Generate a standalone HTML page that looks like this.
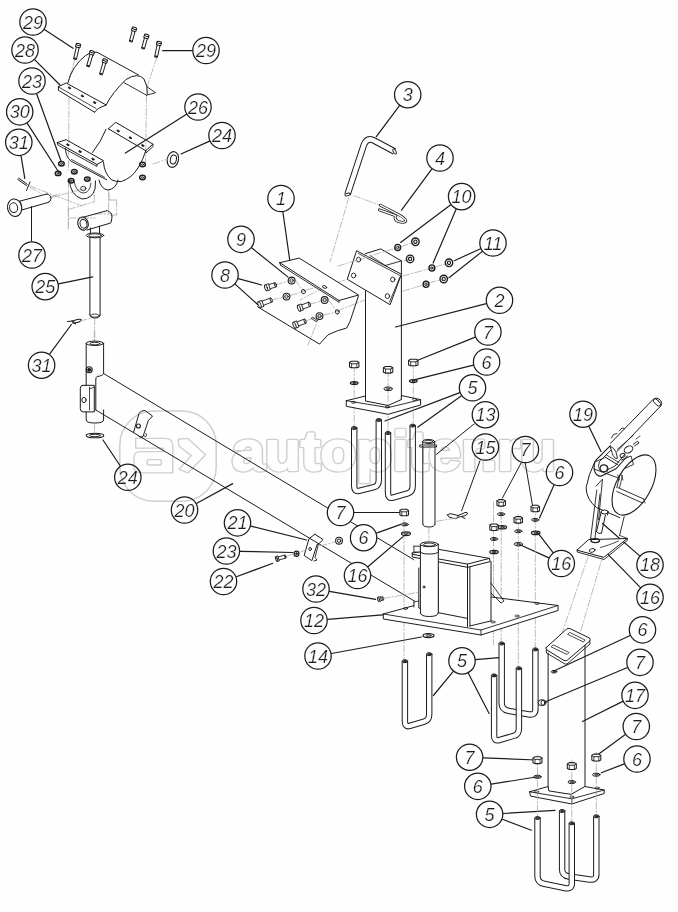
<!DOCTYPE html>
<html><head><meta charset="utf-8"><style>
html,body{margin:0;padding:0;background:#fdfefd;}
svg{display:block;font-family:"Liberation Sans",sans-serif;}
</style></head><body>
<svg width="678" height="912" viewBox="0 0 678 912" stroke-linecap="round">
<line x1="44.4" y1="29.5" x2="73" y2="48.3" stroke="#1c1c1c" stroke-width="1.2"/>
<line x1="34.6" y1="59.6" x2="60" y2="85" stroke="#1c1c1c" stroke-width="1.2"/>
<line x1="36.6" y1="93.8" x2="61" y2="161" stroke="#1c1c1c" stroke-width="1.2"/>
<line x1="27.1" y1="123.2" x2="59" y2="172.5" stroke="#1c1c1c" stroke-width="1.2"/>
<line x1="21" y1="155.7" x2="24.8" y2="178.4" stroke="#1c1c1c" stroke-width="1.2"/>
<line x1="192.4" y1="50.6" x2="162.7" y2="50.7" stroke="#1c1c1c" stroke-width="1.2"/>
<line x1="186.5" y1="114.3" x2="125.4" y2="153.1" stroke="#1c1c1c" stroke-width="1.2"/>
<line x1="209.6" y1="141.1" x2="181" y2="154" stroke="#1c1c1c" stroke-width="1.2"/>
<line x1="58.5" y1="283.9" x2="92.7" y2="276.9" stroke="#1c1c1c" stroke-width="1.2"/>
<line x1="49.6" y1="354.2" x2="71.4" y2="324.5" stroke="#1c1c1c" stroke-width="1.2"/>
<line x1="120.3" y1="466" x2="103" y2="440" stroke="#1c1c1c" stroke-width="1.2"/>
<line x1="196.4" y1="503.5" x2="232.7" y2="483.6" stroke="#1c1c1c" stroke-width="1.2"/>
<line x1="250.7" y1="526.1" x2="306.6" y2="540" stroke="#1c1c1c" stroke-width="1.2"/>
<line x1="240" y1="551.3" x2="292.8" y2="552.5" stroke="#1c1c1c" stroke-width="1.2"/>
<line x1="236.3" y1="576.8" x2="272.8" y2="563.3" stroke="#1c1c1c" stroke-width="1.2"/>
<line x1="329.4" y1="591.3" x2="375.6" y2="599.3" stroke="#1c1c1c" stroke-width="1.2"/>
<line x1="327.6" y1="619.4" x2="385.6" y2="614.7" stroke="#1c1c1c" stroke-width="1.2"/>
<line x1="331.4" y1="653.5" x2="421.4" y2="637" stroke="#1c1c1c" stroke-width="1.2"/>
<line x1="282.9" y1="212" x2="290" y2="262" stroke="#1c1c1c" stroke-width="1.2"/>
<line x1="251.6" y1="247.8" x2="287.8" y2="276.9" stroke="#1c1c1c" stroke-width="1.2"/>
<line x1="238.1" y1="278.6" x2="261.5" y2="285" stroke="#1c1c1c" stroke-width="1.2"/>
<line x1="235.1" y1="284.1" x2="257.7" y2="304.5" stroke="#1c1c1c" stroke-width="1.2"/>
<line x1="399.5" y1="105.6" x2="376.3" y2="136.6" stroke="#1c1c1c" stroke-width="1.2"/>
<line x1="431.9" y1="168.9" x2="401.5" y2="210.2" stroke="#1c1c1c" stroke-width="1.2"/>
<line x1="450.7" y1="204.8" x2="400.6" y2="242.4" stroke="#1c1c1c" stroke-width="1.2"/>
<line x1="456.2" y1="209.1" x2="433.1" y2="263" stroke="#1c1c1c" stroke-width="1.2"/>
<line x1="480.6" y1="248.7" x2="454.3" y2="260.7" stroke="#1c1c1c" stroke-width="1.2"/>
<line x1="482.3" y1="251.4" x2="449" y2="277.8" stroke="#1c1c1c" stroke-width="1.2"/>
<line x1="486.3" y1="303.7" x2="395.6" y2="327" stroke="#1c1c1c" stroke-width="1.2"/>
<line x1="475.3" y1="337.1" x2="416.4" y2="360.8" stroke="#1c1c1c" stroke-width="1.2"/>
<line x1="473.4" y1="365.2" x2="415" y2="379.6" stroke="#1c1c1c" stroke-width="1.2"/>
<line x1="459.8" y1="392.6" x2="385" y2="421" stroke="#1c1c1c" stroke-width="1.2"/>
<line x1="461.5" y1="395.7" x2="417.7" y2="427.2" stroke="#1c1c1c" stroke-width="1.2"/>
<line x1="588.9" y1="426.4" x2="601" y2="451.5" stroke="#1c1c1c" stroke-width="1.2"/>
<line x1="354.1" y1="512.5" x2="399.5" y2="512.5" stroke="#1c1c1c" stroke-width="1.2"/>
<line x1="376.4" y1="533.1" x2="400.8" y2="524.4" stroke="#1c1c1c" stroke-width="1.2"/>
<line x1="367.9" y1="566.7" x2="403.4" y2="536.4" stroke="#1c1c1c" stroke-width="1.2"/>
<line x1="554" y1="485" x2="539.5" y2="518" stroke="#1c1c1c" stroke-width="1.2"/>
<line x1="548.9" y1="557.9" x2="520" y2="544.8" stroke="#1c1c1c" stroke-width="1.2"/>
<line x1="553.1" y1="552.7" x2="537.5" y2="532.3" stroke="#1c1c1c" stroke-width="1.2"/>
<line x1="639.7" y1="555.9" x2="602.5" y2="523.5" stroke="#1c1c1c" stroke-width="1.2"/>
<line x1="640.5" y1="587.6" x2="596.3" y2="542.3" stroke="#1c1c1c" stroke-width="1.2"/>
<line x1="630.2" y1="635.5" x2="553.8" y2="671" stroke="#1c1c1c" stroke-width="1.2"/>
<line x1="627.5" y1="667.5" x2="545" y2="702" stroke="#1c1c1c" stroke-width="1.2"/>
<line x1="622.8" y1="701.4" x2="582.5" y2="721.5" stroke="#1c1c1c" stroke-width="1.2"/>
<line x1="625.3" y1="734.5" x2="598.8" y2="754" stroke="#1c1c1c" stroke-width="1.2"/>
<line x1="624.3" y1="763.9" x2="601.3" y2="772.8" stroke="#1c1c1c" stroke-width="1.2"/>
<line x1="483.2" y1="757.8" x2="536" y2="760" stroke="#1c1c1c" stroke-width="1.2"/>
<line x1="491.2" y1="784.2" x2="536" y2="777" stroke="#1c1c1c" stroke-width="1.2"/>
<line x1="503.2" y1="813.5" x2="555" y2="810.3" stroke="#1c1c1c" stroke-width="1.2"/>
<line x1="502.3" y1="819.2" x2="531.3" y2="830.3" stroke="#1c1c1c" stroke-width="1.2"/>
<line x1="453.3" y1="671.4" x2="433.4" y2="695.5" stroke="#1c1c1c" stroke-width="1.2"/>
<line x1="468.2" y1="673" x2="489.1" y2="713.5" stroke="#1c1c1c" stroke-width="1.2"/>
<line x1="475.5" y1="659.7" x2="499" y2="657.7" stroke="#1c1c1c" stroke-width="1.2"/>
<line x1="69" y1="98" x2="68.5" y2="170" stroke="#a6a6a6" stroke-width="0.75" stroke-dasharray="7 2 1.5 2"/>
<line x1="146.5" y1="96" x2="145.5" y2="165" stroke="#a6a6a6" stroke-width="0.75" stroke-dasharray="7 2 1.5 2"/>
<line x1="75" y1="59" x2="68" y2="83" stroke="#a6a6a6" stroke-width="0.75" stroke-dasharray="7 2 1.5 2"/>
<line x1="157" y1="57" x2="147" y2="87" stroke="#a6a6a6" stroke-width="0.75" stroke-dasharray="7 2 1.5 2"/>
<line x1="68.4" y1="181" x2="68.4" y2="228" stroke="#a6a6a6" stroke-width="0.75" stroke-dasharray="7 2 1.5 2"/>
<line x1="108.6" y1="190" x2="108.6" y2="214" stroke="#a6a6a6" stroke-width="0.75" stroke-dasharray="7 2 1.5 2"/>
<line x1="69" y1="218" x2="95" y2="218" stroke="#a6a6a6" stroke-width="0.75" stroke-dasharray="7 2 1.5 2"/>
<line x1="95" y1="214" x2="112" y2="214" stroke="#a6a6a6" stroke-width="0.75" stroke-dasharray="7 2 1.5 2"/>
<line x1="30" y1="186" x2="82" y2="206" stroke="#a6a6a6" stroke-width="0.75" stroke-dasharray="7 2 1.5 2"/>
<line x1="50" y1="198" x2="86" y2="188" stroke="#a6a6a6" stroke-width="0.75" stroke-dasharray="7 2 1.5 2"/>
<polyline points="58.4,86.7 66.2,83 106,104.9" stroke="#1c1c1c" stroke-width="1.0" fill="none" stroke-linejoin="round"/>
<polyline points="58.4,86.7 58.4,90.3 94.6,112.2" stroke="#1c1c1c" stroke-width="1.0" fill="none" stroke-linejoin="round"/>
<line x1="58.4" y1="86.9" x2="96" y2="108.5" stroke="#1c1c1c" stroke-width="0.8"/>
<path d="M94.6,112.2 Q97,108 106,105.2 Q112,93 126,79.5 Q138,72 144,79 Q148,86 147.3,94.5" stroke="#1c1c1c" stroke-width="1.0" fill="none" stroke-linejoin="round" stroke-linecap="round"/>
<polyline points="146.5,95.2 155.5,92.7 147.3,87" stroke="#1c1c1c" stroke-width="0.9" fill="none" stroke-linejoin="round"/>
<path d="M67.8,83 Q72,66 85.7,55.4 Q91,51.5 97,52.2 L138.4,74.9" stroke="#1c1c1c" stroke-width="1.0" fill="none" stroke-linejoin="round" stroke-linecap="round"/>
<line x1="123.8" y1="82.5" x2="146.5" y2="95.2" stroke="#1c1c1c" stroke-width="0.9"/>
<ellipse cx="69.5" cy="87.9" rx="1.3" ry="0.8" transform="rotate(30 69.5 87.9)" stroke="#1c1c1c" stroke-width="0.8" fill="#1c1c1c"/>
<ellipse cx="82.4" cy="96" rx="1.3" ry="0.8" transform="rotate(30 82.4 96)" stroke="#1c1c1c" stroke-width="0.8" fill="#1c1c1c"/>
<ellipse cx="94.6" cy="102.5" rx="1.3" ry="0.8" transform="rotate(30 94.6 102.5)" stroke="#1c1c1c" stroke-width="0.8" fill="#1c1c1c"/>
<polygon points="76.2,44 75.5,46.9 80,47.9 80.6,45" stroke="#1c1c1c" stroke-width="1.0" fill="#fdfefd" stroke-linejoin="round"/>
<ellipse cx="78.4" cy="44.5" rx="1" ry="2.3" transform="rotate(103.08299067481116 78.4 44.5)" stroke="#1c1c1c" stroke-width="1.0" fill="#fdfefd"/>
<line x1="76.3" y1="47.1" x2="73.7" y2="58.4" stroke="#1c1c1c" stroke-width="1.0"/>
<line x1="79.1" y1="47.8" x2="76.5" y2="59" stroke="#1c1c1c" stroke-width="1.0"/>
<ellipse cx="75.1" cy="58.7" rx="0.6" ry="1.4" transform="rotate(103.08299067481116 75.1 58.7)" stroke="#1c1c1c" stroke-width="1.0" fill="none"/>
<polygon points="90,51.2 89.2,54 93.6,55.3 94.4,52.4" stroke="#1c1c1c" stroke-width="1.0" fill="#fdfefd" stroke-linejoin="round"/>
<ellipse cx="92.2" cy="51.8" rx="1" ry="2.3" transform="rotate(106.1051420841489 92.2 51.8)" stroke="#1c1c1c" stroke-width="1.0" fill="#fdfefd"/>
<line x1="90" y1="54.3" x2="86.7" y2="65.6" stroke="#1c1c1c" stroke-width="1.0"/>
<line x1="92.8" y1="55.1" x2="89.5" y2="66.4" stroke="#1c1c1c" stroke-width="1.0"/>
<ellipse cx="88.1" cy="66" rx="0.6" ry="1.4" transform="rotate(106.1051420841489 88.1 66)" stroke="#1c1c1c" stroke-width="1.0" fill="none"/>
<polygon points="103,59.4 102.2,62.2 106.6,63.5 107.4,60.6" stroke="#1c1c1c" stroke-width="1.0" fill="#fdfefd" stroke-linejoin="round"/>
<ellipse cx="105.2" cy="60" rx="1" ry="2.3" transform="rotate(106.21338168998601 105.2 60)" stroke="#1c1c1c" stroke-width="1.0" fill="#fdfefd"/>
<line x1="103" y1="62.5" x2="99.7" y2="73.7" stroke="#1c1c1c" stroke-width="1.0"/>
<line x1="105.8" y1="63.3" x2="102.5" y2="74.5" stroke="#1c1c1c" stroke-width="1.0"/>
<ellipse cx="101.1" cy="74.1" rx="0.6" ry="1.4" transform="rotate(106.21338168998601 101.1 74.1)" stroke="#1c1c1c" stroke-width="1.0" fill="none"/>
<polygon points="132.2,27.6 131.4,30.5 135.8,31.7 136.6,28.8" stroke="#1c1c1c" stroke-width="1.0" fill="#fdfefd" stroke-linejoin="round"/>
<ellipse cx="134.4" cy="28.2" rx="1" ry="2.3" transform="rotate(105.06848815949222 134.4 28.2)" stroke="#1c1c1c" stroke-width="1.0" fill="#fdfefd"/>
<line x1="132.2" y1="30.7" x2="129.5" y2="40.8" stroke="#1c1c1c" stroke-width="1.0"/>
<line x1="135" y1="31.5" x2="132.3" y2="41.6" stroke="#1c1c1c" stroke-width="1.0"/>
<ellipse cx="130.9" cy="41.2" rx="0.6" ry="1.4" transform="rotate(105.06848815949222 130.9 41.2)" stroke="#1c1c1c" stroke-width="1.0" fill="none"/>
<polygon points="144.5,34.7 143.7,37.6 148.1,38.8 148.9,35.9" stroke="#1c1c1c" stroke-width="1.0" fill="#fdfefd" stroke-linejoin="round"/>
<ellipse cx="146.7" cy="35.3" rx="1" ry="2.3" transform="rotate(105.47863816541833 146.7 35.3)" stroke="#1c1c1c" stroke-width="1.0" fill="#fdfefd"/>
<line x1="144.5" y1="37.8" x2="141.7" y2="47.9" stroke="#1c1c1c" stroke-width="1.0"/>
<line x1="147.3" y1="38.6" x2="144.5" y2="48.7" stroke="#1c1c1c" stroke-width="1.0"/>
<ellipse cx="143.1" cy="48.3" rx="0.6" ry="1.4" transform="rotate(105.47863816541833 143.1 48.3)" stroke="#1c1c1c" stroke-width="1.0" fill="none"/>
<polygon points="157,41.9 156.3,44.8 160.8,45.8 161.4,42.9" stroke="#1c1c1c" stroke-width="1.0" fill="#fdfefd" stroke-linejoin="round"/>
<ellipse cx="159.2" cy="42.4" rx="1" ry="2.3" transform="rotate(102.31501847927437 159.2 42.4)" stroke="#1c1c1c" stroke-width="1.0" fill="#fdfefd"/>
<line x1="157.1" y1="45" x2="154.7" y2="56.3" stroke="#1c1c1c" stroke-width="1.0"/>
<line x1="160" y1="45.6" x2="157.5" y2="56.9" stroke="#1c1c1c" stroke-width="1.0"/>
<ellipse cx="156.1" cy="56.6" rx="0.6" ry="1.4" transform="rotate(102.31501847927437 156.1 56.6)" stroke="#1c1c1c" stroke-width="1.0" fill="none"/>
<polyline points="57.3,142.5 66.2,139.7 103.5,160.7 97,164.5 57.3,142.5" stroke="#1c1c1c" stroke-width="1.0" fill="none" stroke-linejoin="round"/>
<polyline points="57.3,142.5 57.8,145 97,166.5 97,164.5" stroke="#1c1c1c" stroke-width="0.9" fill="none" stroke-linejoin="round"/>
<polyline points="108.4,128.8 115.7,122.3 153,144.2 145.7,150.7 108.4,128.8" stroke="#1c1c1c" stroke-width="1.0" fill="none" stroke-linejoin="round"/>
<polyline points="145.7,150.7 146,153 153,146.6 153,144.2" stroke="#1c1c1c" stroke-width="0.9" fill="none" stroke-linejoin="round"/>
<path d="M106,129.3 Q101,142 92.5,152.5" stroke="#1c1c1c" stroke-width="1.0" fill="none" stroke-linejoin="round" stroke-linecap="round"/>
<path d="M103.5,162 Q104,173 111.6,179.9 Q116,182 121.4,181.5 Q132,178 138,168 Q143,160 145.7,151" stroke="#1c1c1c" stroke-width="1.0" fill="none" stroke-linejoin="round" stroke-linecap="round"/>
<path d="M65.4,148.3 Q66,156 68.7,158.8 L71.1,161.2 L106.8,179.9" stroke="#1c1c1c" stroke-width="1.0" fill="none" stroke-linejoin="round" stroke-linecap="round"/>
<line x1="71.5" y1="159.5" x2="104.5" y2="177.2" stroke="#1c1c1c" stroke-width="0.8"/>
<ellipse cx="67.8" cy="144.7" rx="1.3" ry="0.8" transform="rotate(30 67.8 144.7)" stroke="#1c1c1c" stroke-width="0.8" fill="#1c1c1c"/>
<ellipse cx="80" cy="151.5" rx="1.3" ry="0.8" transform="rotate(30 80 151.5)" stroke="#1c1c1c" stroke-width="0.8" fill="#1c1c1c"/>
<ellipse cx="93" cy="159.1" rx="1.3" ry="0.8" transform="rotate(30 93 159.1)" stroke="#1c1c1c" stroke-width="0.8" fill="#1c1c1c"/>
<ellipse cx="118.1" cy="130.9" rx="1.3" ry="0.8" transform="rotate(30 118.1 130.9)" stroke="#1c1c1c" stroke-width="0.8" fill="#1c1c1c"/>
<ellipse cx="130.3" cy="137.7" rx="1.3" ry="0.8" transform="rotate(30 130.3 137.7)" stroke="#1c1c1c" stroke-width="0.8" fill="#1c1c1c"/>
<ellipse cx="142.8" cy="145.5" rx="1.3" ry="0.8" transform="rotate(30 142.8 145.5)" stroke="#1c1c1c" stroke-width="0.8" fill="#1c1c1c"/>
<path d="M69.5,180 Q70,195 82,199 Q92,199 95,189 L95.5,181" stroke="#1c1c1c" stroke-width="1.0" fill="none" stroke-linejoin="round" stroke-linecap="round"/>
<path d="M74,181 Q76,192 83,193 Q90,193 91,183" stroke="#1c1c1c" stroke-width="0.8" fill="none" stroke-linejoin="round" stroke-linecap="round"/>
<path d="M99,180 Q101,189 108,190 Q116,189 118,180" stroke="#1c1c1c" stroke-width="1.0" fill="none" stroke-linejoin="round" stroke-linecap="round"/>
<ellipse cx="61.4" cy="163.7" rx="2.8" ry="2.2" transform="rotate(0 61.4 163.7)" stroke="#1c1c1c" stroke-width="1.5" fill="none"/>
<ellipse cx="61.4" cy="163.7" rx="1" ry="0.8" transform="rotate(0 61.4 163.7)" stroke="#1c1c1c" stroke-width="0.8" fill="none"/>
<ellipse cx="58.1" cy="173.4" rx="2.8" ry="2.2" transform="rotate(0 58.1 173.4)" stroke="#1c1c1c" stroke-width="1.5" fill="none"/>
<ellipse cx="58.1" cy="173.4" rx="1" ry="0.8" transform="rotate(0 58.1 173.4)" stroke="#1c1c1c" stroke-width="0.8" fill="none"/>
<ellipse cx="74.3" cy="171.8" rx="2.8" ry="2.2" transform="rotate(0 74.3 171.8)" stroke="#1c1c1c" stroke-width="1.5" fill="none"/>
<ellipse cx="74.3" cy="171.8" rx="1" ry="0.8" transform="rotate(0 74.3 171.8)" stroke="#1c1c1c" stroke-width="0.8" fill="none"/>
<ellipse cx="71.1" cy="180.7" rx="2.8" ry="2.2" transform="rotate(0 71.1 180.7)" stroke="#1c1c1c" stroke-width="1.5" fill="none"/>
<ellipse cx="71.1" cy="180.7" rx="1" ry="0.8" transform="rotate(0 71.1 180.7)" stroke="#1c1c1c" stroke-width="0.8" fill="none"/>
<ellipse cx="87.3" cy="179.1" rx="2.8" ry="2.2" transform="rotate(0 87.3 179.1)" stroke="#1c1c1c" stroke-width="1.5" fill="none"/>
<ellipse cx="87.3" cy="179.1" rx="1" ry="0.8" transform="rotate(0 87.3 179.1)" stroke="#1c1c1c" stroke-width="0.8" fill="none"/>
<ellipse cx="142.5" cy="164.5" rx="2.8" ry="2.2" transform="rotate(0 142.5 164.5)" stroke="#1c1c1c" stroke-width="1.5" fill="none"/>
<ellipse cx="142.5" cy="164.5" rx="1" ry="0.8" transform="rotate(0 142.5 164.5)" stroke="#1c1c1c" stroke-width="0.8" fill="none"/>
<ellipse cx="142.5" cy="177.5" rx="2.8" ry="2.2" transform="rotate(0 142.5 177.5)" stroke="#1c1c1c" stroke-width="1.5" fill="none"/>
<ellipse cx="142.5" cy="177.5" rx="1" ry="0.8" transform="rotate(0 142.5 177.5)" stroke="#1c1c1c" stroke-width="0.8" fill="none"/>
<ellipse cx="83.3" cy="188.5" rx="2.6" ry="2.2" transform="rotate(0 83.3 188.5)" stroke="#1c1c1c" stroke-width="0.9" fill="none"/>
<ellipse cx="172.9" cy="159.5" rx="5.6" ry="8" transform="rotate(12 172.9 159.5)" stroke="#1c1c1c" stroke-width="1.1" fill="none"/>
<ellipse cx="173.4" cy="159.5" rx="3" ry="4.5" transform="rotate(12 173.4 159.5)" stroke="#1c1c1c" stroke-width="1.0" fill="none"/>
<line x1="153" y1="164" x2="168" y2="159" stroke="#a6a6a6" stroke-width="0.75" stroke-dasharray="7 2 1.5 2"/>
<path d="M17.7,179.4 L26.5,185.6 M18.6,178 L27.2,184.3 M30,182 L26.5,190.5" stroke="#1c1c1c" stroke-width="1.0" fill="none" stroke-linejoin="round" stroke-linecap="round"/>
<line x1="30" y1="187.4" x2="41.6" y2="193.6" stroke="#a6a6a6" stroke-width="0.75" stroke-dasharray="7 2 1.5 2"/>
<line x1="51.3" y1="196.7" x2="60" y2="193.6" stroke="#a6a6a6" stroke-width="0.75" stroke-dasharray="7 2 1.5 2"/>
<line x1="19.9" y1="201.1" x2="46.9" y2="194" stroke="#1c1c1c" stroke-width="1.0"/>
<line x1="21.7" y1="210" x2="48.2" y2="202.4" stroke="#1c1c1c" stroke-width="1.0"/>
<path d="M46.9,194 Q50.9,195 51,198.5 Q51,201.5 48.2,202.4" stroke="#1c1c1c" stroke-width="1.0" fill="none" stroke-linejoin="round" stroke-linecap="round"/>
<path d="M19.9,201.1 Q22.5,206 21.7,210" stroke="#1c1c1c" stroke-width="0.9" fill="none" stroke-linejoin="round" stroke-linecap="round"/>
<ellipse cx="14.6" cy="207.7" rx="7.1" ry="8.8" transform="rotate(-10 14.6 207.7)" stroke="#1c1c1c" stroke-width="1.1" fill="#fdfefd"/>
<ellipse cx="13.6" cy="207.7" rx="4" ry="4.9" transform="rotate(-10 13.6 207.7)" stroke="#1c1c1c" stroke-width="1.0" fill="none"/>
<line x1="31.5" y1="206.5" x2="31.5" y2="241" stroke="#1c1c1c" stroke-width="1.0"/>
<line x1="68.3" y1="209.5" x2="68.3" y2="230" stroke="#a6a6a6" stroke-width="0.75" stroke-dasharray="7 2 1.5 2"/>
<line x1="68.3" y1="209.5" x2="94.2" y2="201.8" stroke="#a6a6a6" stroke-width="0.75" stroke-dasharray="7 2 1.5 2"/>
<line x1="94.2" y1="201.8" x2="94.2" y2="190" stroke="#a6a6a6" stroke-width="0.75" stroke-dasharray="7 2 1.5 2"/>
<line x1="109" y1="193.5" x2="109" y2="200" stroke="#a6a6a6" stroke-width="0.75" stroke-dasharray="7 2 1.5 2"/>
<line x1="109" y1="200" x2="116.6" y2="200" stroke="#a6a6a6" stroke-width="0.75" stroke-dasharray="7 2 1.5 2"/>
<line x1="116.6" y1="200" x2="116.6" y2="214.8" stroke="#a6a6a6" stroke-width="0.75" stroke-dasharray="7 2 1.5 2"/>
<line x1="116.6" y1="214.8" x2="111" y2="215.5" stroke="#a6a6a6" stroke-width="0.75" stroke-dasharray="7 2 1.5 2"/>
<ellipse cx="83" cy="223.6" rx="5.2" ry="6.6" transform="rotate(-15 83 223.6)" stroke="#1c1c1c" stroke-width="1.1" fill="none"/>
<ellipse cx="83.5" cy="223.8" rx="3.4" ry="4.4" transform="rotate(-15 83.5 223.8)" stroke="#1c1c1c" stroke-width="1.0" fill="none"/>
<path d="M83.6,217.1 L107.2,210.6 Q112,212 112,217 Q111.5,222 110.7,223 L87.1,230" stroke="#1c1c1c" stroke-width="1.0" fill="none" stroke-linejoin="round" stroke-linecap="round"/>
<line x1="90.4" y1="228" x2="90.4" y2="233" stroke="#1c1c1c" stroke-width="1.0"/>
<line x1="99.5" y1="226" x2="99.5" y2="233" stroke="#1c1c1c" stroke-width="1.0"/>
<ellipse cx="95" cy="235.4" rx="8.8" ry="2.4" transform="rotate(0 95 235.4)" stroke="#1c1c1c" stroke-width="1.0" fill="none"/>
<ellipse cx="95" cy="235.4" rx="6.5" ry="1.5" transform="rotate(0 95 235.4)" stroke="#1c1c1c" stroke-width="0.8" fill="none"/>
<line x1="89.9" y1="237.5" x2="89.9" y2="315" stroke="#1c1c1c" stroke-width="1.0"/>
<line x1="100.1" y1="237.5" x2="100.1" y2="315" stroke="#1c1c1c" stroke-width="1.0"/>
<path d="M89.9,315 Q90,318 95,318 Q100,318 100.1,315" stroke="#1c1c1c" stroke-width="1.0" fill="none" stroke-linejoin="round" stroke-linecap="round"/>
<ellipse cx="95" cy="315.6" rx="4.2" ry="1.6" transform="rotate(0 95 315.6)" stroke="#1c1c1c" stroke-width="0.8" fill="none"/>
<line x1="94.7" y1="318" x2="94.7" y2="342" stroke="#a6a6a6" stroke-width="0.75" stroke-dasharray="7 2 1.5 2"/>
<path d="M67.5,321.5 L73,321 Q78,318.5 81,319.5 Q81.5,321.5 77,322.5 Q73,323.8 72.5,322.8 M72,320.5 L75.5,323.8" stroke="#1c1c1c" stroke-width="1.1" fill="none" stroke-linejoin="round" stroke-linecap="round"/>
<line x1="80" y1="321" x2="92" y2="318" stroke="#a6a6a6" stroke-width="0.75" stroke-dasharray="7 2 1.5 2"/>
<line x1="94.3" y1="330" x2="94.3" y2="342" stroke="#a6a6a6" stroke-width="0.75" stroke-dasharray="7 2 1.5 2"/>
<ellipse cx="94.9" cy="343.3" rx="8.7" ry="2.2" transform="rotate(0 94.9 343.3)" stroke="#1c1c1c" stroke-width="1.0" fill="none"/>
<ellipse cx="94.9" cy="343.6" rx="5" ry="1.3" transform="rotate(0 94.9 343.6)" stroke="#1c1c1c" stroke-width="0.9" fill="none"/>
<line x1="86.2" y1="343.3" x2="86.2" y2="385.5" stroke="#1c1c1c" stroke-width="1.0"/>
<line x1="103.6" y1="343.3" x2="103.6" y2="373.5" stroke="#1c1c1c" stroke-width="1.0"/>
<path d="M86.2,412 L86.2,420 Q86.5,423 94.9,423 Q103.5,423 103.6,420 L103.6,410" stroke="#1c1c1c" stroke-width="1.0" fill="none" stroke-linejoin="round" stroke-linecap="round"/>
<ellipse cx="89.2" cy="369.8" rx="3" ry="3" transform="rotate(0 89.2 369.8)" stroke="#1c1c1c" stroke-width="1.1" fill="none"/>
<ellipse cx="89.2" cy="369.8" rx="1.6" ry="1.6" transform="rotate(0 89.2 369.8)" stroke="#1c1c1c" stroke-width="0.9" fill="#1c1c1c"/>
<path d="M103.6,373.5 Q103,376 97,376.5 Q95.8,377 95.8,380 L95.8,410" stroke="#1c1c1c" stroke-width="1.0" fill="none" stroke-linejoin="round" stroke-linecap="round"/>
<line x1="103.6" y1="373.5" x2="419.3" y2="563" stroke="#1c1c1c" stroke-width="1.0"/>
<line x1="95.8" y1="410" x2="419.3" y2="604" stroke="#1c1c1c" stroke-width="1.0"/>
<path d="M80.3,388 Q80.3,385.3 83,385.3 L94.3,385.3 L94.3,411.9 L83,411.9 Q80.3,411.9 80.3,409 Z" stroke="#1c1c1c" stroke-width="1.0" fill="none" stroke-linejoin="round" stroke-linecap="round"/>
<line x1="89.5" y1="387" x2="89.5" y2="410" stroke="#1c1c1c" stroke-width="0.8"/>
<line x1="94.3" y1="387" x2="89.5" y2="389" stroke="#1c1c1c" stroke-width="0.8"/>
<ellipse cx="84" cy="400" rx="2.2" ry="2.6" transform="rotate(0 84 400)" stroke="#1c1c1c" stroke-width="1.0" fill="none"/>
<ellipse cx="95" cy="435.5" rx="8.8" ry="2.3" transform="rotate(0 95 435.5)" stroke="#1c1c1c" stroke-width="1.1" fill="none"/>
<ellipse cx="95" cy="435.5" rx="5.5" ry="1.2" transform="rotate(0 95 435.5)" stroke="#1c1c1c" stroke-width="0.9" fill="none"/>
<line x1="94.5" y1="424" x2="94.5" y2="433" stroke="#a6a6a6" stroke-width="0.75" stroke-dasharray="7 2 1.5 2"/>
<path d="M133.5,432.5 L139,413.5 Q141,410 145,410.5 L152.5,416 L150.5,418.5 Q148,419.5 147.5,423 L143,436.5 Q141,438 139,436.5" stroke="#1c1c1c" stroke-width="1.0" fill="none" stroke-linejoin="round" stroke-linecap="round"/>
<path d="M144,436 Q146.5,437.5 146.5,435.5 L146,433.5" stroke="#1c1c1c" stroke-width="0.9" fill="none" stroke-linejoin="round" stroke-linecap="round"/>
<ellipse cx="138.4" cy="426" rx="2" ry="2" transform="rotate(0 138.4 426)" stroke="#1c1c1c" stroke-width="1.1" fill="none"/>
<polyline points="314.8,534.2 323.1,539.5 318.4,544.2 317.2,544.2 311.9,560.7 304.2,555.4 308.9,538.9 314.8,534.2" stroke="#1c1c1c" stroke-width="1.0" fill="none" stroke-linejoin="round"/>
<path d="M318.4,544.2 L315,557.5 L317,560 L314,561" stroke="#1c1c1c" stroke-width="0.9" fill="none" stroke-linejoin="round" stroke-linecap="round"/>
<ellipse cx="310.1" cy="549" rx="1.3" ry="1.6" transform="rotate(0 310.1 549)" stroke="#1c1c1c" stroke-width="0.9" fill="none"/>
<ellipse cx="296.5" cy="553.7" rx="2.4" ry="2.6" transform="rotate(0 296.5 553.7)" stroke="#1c1c1c" stroke-width="1.3" fill="none"/>
<ellipse cx="296.5" cy="553.7" rx="0.8" ry="1" transform="rotate(0 296.5 553.7)" stroke="#1c1c1c" stroke-width="1" fill="#1c1c1c"/>
<polygon points="277.2,561.5 279.3,560.9 277.9,555.9 275.8,556.5" stroke="#1c1c1c" stroke-width="0.9" fill="#fdfefd" stroke-linejoin="round"/>
<ellipse cx="276.5" cy="559" rx="0.8" ry="2.6" transform="rotate(-15.255118703057619 276.5 559)" stroke="#1c1c1c" stroke-width="0.9" fill="#fdfefd"/>
<line x1="279" y1="560" x2="285.7" y2="558.1" stroke="#1c1c1c" stroke-width="0.9"/>
<line x1="278.2" y1="556.9" x2="284.9" y2="555.1" stroke="#1c1c1c" stroke-width="0.9"/>
<ellipse cx="285.3" cy="556.6" rx="0.6" ry="1.6" transform="rotate(-15.255118703057619 285.3 556.6)" stroke="#1c1c1c" stroke-width="0.9" fill="none"/>
<ellipse cx="339" cy="540.7" rx="3.4" ry="3.4" transform="rotate(0 339 540.7)" stroke="#1c1c1c" stroke-width="1.1" fill="none"/>
<ellipse cx="339" cy="540.7" rx="1.7" ry="1.7" transform="rotate(0 339 540.7)" stroke="#1c1c1c" stroke-width="1.0" fill="none"/>
<line x1="287" y1="556" x2="293" y2="554" stroke="#a6a6a6" stroke-width="0.75" stroke-dasharray="7 2 1.5 2"/>
<line x1="300" y1="552" x2="306" y2="550" stroke="#a6a6a6" stroke-width="0.75" stroke-dasharray="7 2 1.5 2"/>
<line x1="320" y1="546" x2="335" y2="542" stroke="#a6a6a6" stroke-width="0.75" stroke-dasharray="7 2 1.5 2"/>
<line x1="354.2" y1="365" x2="354.2" y2="430" stroke="#a6a6a6" stroke-width="0.75" stroke-dasharray="7 2 1.5 2"/>
<line x1="388.1" y1="370" x2="388.1" y2="436" stroke="#a6a6a6" stroke-width="0.75" stroke-dasharray="7 2 1.5 2"/>
<line x1="413.3" y1="362" x2="413.3" y2="428" stroke="#a6a6a6" stroke-width="0.75" stroke-dasharray="7 2 1.5 2"/>
<line x1="365.5" y1="290.8" x2="365.5" y2="401" stroke="#1c1c1c" stroke-width="1.0"/>
<line x1="401.4" y1="275" x2="401.4" y2="399.5" stroke="#1c1c1c" stroke-width="1.0"/>
<polygon points="356.9,250.9 401.4,274.2 390.1,304.7 347.6,279.5" stroke="#1c1c1c" stroke-width="1.0" fill="#fdfefd" stroke-linejoin="round"/>
<line x1="358.5" y1="253.6" x2="400" y2="275.5" stroke="#1c1c1c" stroke-width="0.8"/>
<line x1="400" y1="277" x2="389.5" y2="302" stroke="#1c1c1c" stroke-width="0.8"/>
<polyline points="365.5,253.6 380.8,248.9 401.4,260.9 401.4,274.2" stroke="#1c1c1c" stroke-width="1.0" fill="none" stroke-linejoin="round"/>
<line x1="385.4" y1="265.5" x2="401.4" y2="260.9" stroke="#1c1c1c" stroke-width="0.9"/>
<line x1="370" y1="255.5" x2="385.4" y2="265.5" stroke="#1c1c1c" stroke-width="0.8"/>
<ellipse cx="358.6" cy="259.6" rx="2.2" ry="2.4" transform="rotate(0 358.6 259.6)" stroke="#1c1c1c" stroke-width="0.9" fill="none"/>
<ellipse cx="353.6" cy="275.5" rx="2.2" ry="2.4" transform="rotate(0 353.6 275.5)" stroke="#1c1c1c" stroke-width="0.9" fill="none"/>
<ellipse cx="392.7" cy="279.5" rx="2.2" ry="2.4" transform="rotate(0 392.7 279.5)" stroke="#1c1c1c" stroke-width="0.9" fill="none"/>
<ellipse cx="387.4" cy="296.1" rx="2.2" ry="2.4" transform="rotate(0 387.4 296.1)" stroke="#1c1c1c" stroke-width="0.9" fill="none"/>
<polyline points="346.3,400.7 365.5,396 365.5,401 388.1,405.5 401.4,399.5 401.4,395.5 420.6,399.7 420.6,405 388.1,414.3 346.3,406.3 346.3,400.7" stroke="#1c1c1c" stroke-width="1.0" fill="#fdfefd" stroke-linejoin="round"/>
<polyline points="346.3,400.7 388.1,407.6 420.6,399.7" stroke="#1c1c1c" stroke-width="0.9" fill="none" stroke-linejoin="round"/>
<ellipse cx="353.6" cy="402.3" rx="2" ry="1" transform="rotate(0 353.6 402.3)" stroke="#1c1c1c" stroke-width="0.8" fill="none"/>
<ellipse cx="387.4" cy="407" rx="2" ry="1" transform="rotate(0 387.4 407)" stroke="#1c1c1c" stroke-width="0.8" fill="none"/>
<ellipse cx="414.6" cy="399.5" rx="2" ry="1" transform="rotate(0 414.6 399.5)" stroke="#1c1c1c" stroke-width="0.8" fill="none"/>
<polygon points="349.5,362.5 351.6,361.2 356.8,361.2 358.9,362.5 358.9,367 356.8,367.8 351.6,367.8 349.5,367" stroke="#1c1c1c" stroke-width="1.05" fill="#fdfefd" stroke-linejoin="round"/>
<polyline points="349.5,362.5 351.6,363.8 356.8,363.8 358.9,362.5" stroke="#1c1c1c" stroke-width="0.9" fill="none" stroke-linejoin="round"/>
<line x1="351.6" y1="363.8" x2="351.6" y2="367.8" stroke="#1c1c1c" stroke-width="0.8"/>
<line x1="356.8" y1="363.8" x2="356.8" y2="367.8" stroke="#1c1c1c" stroke-width="0.8"/>
<polygon points="383.4,367.8 385.5,366.5 390.7,366.5 392.8,367.8 392.8,372.3 390.7,373.1 385.5,373.1 383.4,372.3" stroke="#1c1c1c" stroke-width="1.05" fill="#fdfefd" stroke-linejoin="round"/>
<polyline points="383.4,367.8 385.5,369.1 390.7,369.1 392.8,367.8" stroke="#1c1c1c" stroke-width="0.9" fill="none" stroke-linejoin="round"/>
<line x1="385.5" y1="369.1" x2="385.5" y2="373.1" stroke="#1c1c1c" stroke-width="0.8"/>
<line x1="390.7" y1="369.1" x2="390.7" y2="373.1" stroke="#1c1c1c" stroke-width="0.8"/>
<polygon points="408.6,360.5 410.7,359.2 415.9,359.2 418,360.5 418,365 415.9,365.8 410.7,365.8 408.6,365" stroke="#1c1c1c" stroke-width="1.05" fill="#fdfefd" stroke-linejoin="round"/>
<polyline points="408.6,360.5 410.7,361.8 415.9,361.8 418,360.5" stroke="#1c1c1c" stroke-width="0.9" fill="none" stroke-linejoin="round"/>
<line x1="410.7" y1="361.8" x2="410.7" y2="365.8" stroke="#1c1c1c" stroke-width="0.8"/>
<line x1="415.9" y1="361.8" x2="415.9" y2="365.8" stroke="#1c1c1c" stroke-width="0.8"/>
<ellipse cx="354.2" cy="383" rx="3.8" ry="1.5" transform="rotate(0 354.2 383)" stroke="#1c1c1c" stroke-width="1.25" fill="none"/>
<ellipse cx="354.2" cy="383" rx="1.7" ry="0.6" transform="rotate(0 354.2 383)" stroke="#1c1c1c" stroke-width="0.9" fill="none"/>
<ellipse cx="413.3" cy="381" rx="3.8" ry="1.5" transform="rotate(0 413.3 381)" stroke="#1c1c1c" stroke-width="1.25" fill="none"/>
<ellipse cx="413.3" cy="381" rx="1.7" ry="0.6" transform="rotate(0 413.3 381)" stroke="#1c1c1c" stroke-width="0.9" fill="none"/>
<ellipse cx="388.1" cy="388.8" rx="4.2" ry="1.8" transform="rotate(0 388.1 388.8)" stroke="#1c1c1c" stroke-width="1.0" fill="none"/>
<ellipse cx="388.1" cy="388.8" rx="1.9" ry="0.7" transform="rotate(0 388.1 388.8)" stroke="#1c1c1c" stroke-width="0.8" fill="none"/>
<line x1="338" y1="266" x2="397.7" y2="247.5" stroke="#a6a6a6" stroke-width="0.75" stroke-dasharray="7 2 1.5 2"/>
<line x1="401" y1="246.5" x2="415.4" y2="241.8" stroke="#a6a6a6" stroke-width="0.75" stroke-dasharray="7 2 1.5 2"/>
<line x1="404" y1="261" x2="410.1" y2="258.9" stroke="#a6a6a6" stroke-width="0.75" stroke-dasharray="7 2 1.5 2"/>
<line x1="403" y1="276" x2="431.9" y2="268" stroke="#a6a6a6" stroke-width="0.75" stroke-dasharray="7 2 1.5 2"/>
<line x1="435" y1="267" x2="449" y2="262.8" stroke="#a6a6a6" stroke-width="0.75" stroke-dasharray="7 2 1.5 2"/>
<line x1="403" y1="291" x2="426" y2="284.3" stroke="#a6a6a6" stroke-width="0.75" stroke-dasharray="7 2 1.5 2"/>
<line x1="429" y1="283" x2="443.7" y2="279" stroke="#a6a6a6" stroke-width="0.75" stroke-dasharray="7 2 1.5 2"/>
<ellipse cx="397.7" cy="247.5" rx="2.9" ry="3.1" transform="rotate(0 397.7 247.5)" stroke="#1c1c1c" stroke-width="1.4" fill="none"/>
<ellipse cx="397.7" cy="247.5" rx="1.1" ry="1.3" transform="rotate(0 397.7 247.5)" stroke="#1c1c1c" stroke-width="0.9" fill="none"/>
<ellipse cx="431.9" cy="268" rx="2.9" ry="3.1" transform="rotate(0 431.9 268)" stroke="#1c1c1c" stroke-width="1.4" fill="none"/>
<ellipse cx="431.9" cy="268" rx="1.1" ry="1.3" transform="rotate(0 431.9 268)" stroke="#1c1c1c" stroke-width="0.9" fill="none"/>
<ellipse cx="426" cy="284.3" rx="2.9" ry="3.1" transform="rotate(0 426 284.3)" stroke="#1c1c1c" stroke-width="1.4" fill="none"/>
<ellipse cx="426" cy="284.3" rx="1.1" ry="1.3" transform="rotate(0 426 284.3)" stroke="#1c1c1c" stroke-width="0.9" fill="none"/>
<ellipse cx="415.4" cy="241.8" rx="3.7" ry="3.8" transform="rotate(0 415.4 241.8)" stroke="#1c1c1c" stroke-width="1.4" fill="none"/>
<ellipse cx="415.4" cy="241.8" rx="1.6" ry="1.8" transform="rotate(0 415.4 241.8)" stroke="#1c1c1c" stroke-width="1.1" fill="none"/>
<ellipse cx="410.1" cy="258.9" rx="3.7" ry="3.8" transform="rotate(0 410.1 258.9)" stroke="#1c1c1c" stroke-width="1.4" fill="none"/>
<ellipse cx="410.1" cy="258.9" rx="1.6" ry="1.8" transform="rotate(0 410.1 258.9)" stroke="#1c1c1c" stroke-width="1.1" fill="none"/>
<ellipse cx="449" cy="262.8" rx="3.7" ry="3.8" transform="rotate(0 449 262.8)" stroke="#1c1c1c" stroke-width="1.4" fill="none"/>
<ellipse cx="449" cy="262.8" rx="1.6" ry="1.8" transform="rotate(0 449 262.8)" stroke="#1c1c1c" stroke-width="1.1" fill="none"/>
<ellipse cx="443.7" cy="279" rx="3.7" ry="3.8" transform="rotate(0 443.7 279)" stroke="#1c1c1c" stroke-width="1.4" fill="none"/>
<ellipse cx="443.7" cy="279" rx="1.6" ry="1.8" transform="rotate(0 443.7 279)" stroke="#1c1c1c" stroke-width="1.1" fill="none"/>
<path d="M354.2,428 L354.2,486 Q354.2,492 359.1,490.8 L373.9,487.2 Q378.8,486 378.8,480 L378.8,420" stroke="#1c1c1c" stroke-width="6.4" fill="none" stroke-linejoin="round" stroke-linecap="butt"/>
<path d="M354.2,428 L354.2,486 Q354.2,492 359.1,490.8 L373.9,487.2 Q378.8,486 378.8,480 L378.8,420" stroke="#fdfefd" stroke-width="4.4" fill="none" stroke-linejoin="round" stroke-linecap="butt"/>
<ellipse cx="354.2" cy="428" rx="2.7" ry="1.5" transform="rotate(0 354.2 428)" stroke="#1c1c1c" stroke-width="1.0" fill="#fdfefd"/>
<ellipse cx="354.2" cy="428" rx="1.6" ry="0.8" transform="rotate(0 354.2 428)" stroke="#1c1c1c" stroke-width="0.7" fill="#1c1c1c"/>
<ellipse cx="378.8" cy="420" rx="2.7" ry="1.5" transform="rotate(0 378.8 420)" stroke="#1c1c1c" stroke-width="1.0" fill="#fdfefd"/>
<ellipse cx="378.8" cy="420" rx="1.6" ry="0.8" transform="rotate(0 378.8 420)" stroke="#1c1c1c" stroke-width="0.7" fill="#1c1c1c"/>
<path d="M388,433 L388,493 Q388,499 392.9,497.6 L407.8,493.4 Q412.7,492 412.7,486 L412.7,425.6" stroke="#1c1c1c" stroke-width="6.4" fill="none" stroke-linejoin="round" stroke-linecap="butt"/>
<path d="M388,433 L388,493 Q388,499 392.9,497.6 L407.8,493.4 Q412.7,492 412.7,486 L412.7,425.6" stroke="#fdfefd" stroke-width="4.4" fill="none" stroke-linejoin="round" stroke-linecap="butt"/>
<ellipse cx="388" cy="433" rx="2.7" ry="1.5" transform="rotate(0 388 433)" stroke="#1c1c1c" stroke-width="1.0" fill="#fdfefd"/>
<ellipse cx="388" cy="433" rx="1.6" ry="0.8" transform="rotate(0 388 433)" stroke="#1c1c1c" stroke-width="0.7" fill="#1c1c1c"/>
<ellipse cx="412.7" cy="425.6" rx="2.7" ry="1.5" transform="rotate(0 412.7 425.6)" stroke="#1c1c1c" stroke-width="1.0" fill="#fdfefd"/>
<ellipse cx="412.7" cy="425.6" rx="1.6" ry="0.8" transform="rotate(0 412.7 425.6)" stroke="#1c1c1c" stroke-width="0.7" fill="#1c1c1c"/>
<line x1="422.8" y1="446.3" x2="422.8" y2="524" stroke="#1c1c1c" stroke-width="1.0"/>
<line x1="435" y1="446.3" x2="435" y2="524" stroke="#1c1c1c" stroke-width="1.0"/>
<path d="M422.8,524 Q423,527 429,527 Q435,527 435,524" stroke="#1c1c1c" stroke-width="1.0" fill="none" stroke-linejoin="round" stroke-linecap="round"/>
<path d="M420.1,445 L436.6,445 L436.6,447 L420.1,447 Z" stroke="#1c1c1c" stroke-width="0.9" fill="none" stroke-linejoin="round" stroke-linecap="round"/>
<ellipse cx="428.7" cy="441.5" rx="6" ry="2" transform="rotate(0 428.7 441.5)" stroke="#1c1c1c" stroke-width="1.0" fill="none"/>
<line x1="422.7" y1="441.5" x2="422.7" y2="445" stroke="#1c1c1c" stroke-width="1.0"/>
<line x1="434.7" y1="441.5" x2="434.7" y2="445" stroke="#1c1c1c" stroke-width="1.0"/>
<ellipse cx="428.7" cy="441.5" rx="4" ry="1.2" transform="rotate(0 428.7 441.5)" stroke="#1c1c1c" stroke-width="0.8" fill="none"/>
<line x1="428.9" y1="527" x2="428.9" y2="541" stroke="#a6a6a6" stroke-width="0.75" stroke-dasharray="7 2 1.5 2"/>
<path d="M447.5,515 Q448,513 452,514 L458,515.5 Q462,514 465,512.5 Q468,512 467.5,514 Q466,516 461,516.5 L458,517.5 Q456,519.5 452,518 Q448,517.5 447.5,515 Z M458,515.5 L458,517.5 M462,517 L465,518.5" stroke="#1c1c1c" stroke-width="1.0" fill="none" stroke-linejoin="round" stroke-linecap="round"/>
<line x1="436.6" y1="521.3" x2="460.3" y2="517.4" stroke="#a6a6a6" stroke-width="0.75" stroke-dasharray="7 2 1.5 2"/>
<line x1="404" y1="520" x2="404" y2="662" stroke="#a6a6a6" stroke-width="0.75" stroke-dasharray="7 2 1.5 2"/>
<line x1="493.5" y1="502" x2="493.5" y2="645" stroke="#a6a6a6" stroke-width="0.75" stroke-dasharray="7 2 1.5 2"/>
<line x1="501.2" y1="500" x2="501.2" y2="650" stroke="#a6a6a6" stroke-width="0.75" stroke-dasharray="7 2 1.5 2"/>
<line x1="518.3" y1="515" x2="518.3" y2="668" stroke="#a6a6a6" stroke-width="0.75" stroke-dasharray="7 2 1.5 2"/>
<line x1="535.3" y1="505" x2="535.3" y2="650" stroke="#a6a6a6" stroke-width="0.75" stroke-dasharray="7 2 1.5 2"/>
<polyline points="383.3,614 460,593 558,605.5 558,610.5 481,635 383.3,619 383.3,614" stroke="#1c1c1c" stroke-width="1.0" fill="#fdfefd" stroke-linejoin="round"/>
<polyline points="383.3,614 481,630 558,605.5" stroke="#1c1c1c" stroke-width="0.9" fill="none" stroke-linejoin="round"/>
<line x1="481" y1="630" x2="481" y2="635" stroke="#1c1c1c" stroke-width="0.9"/>
<ellipse cx="405.5" cy="608.5" rx="2" ry="1" transform="rotate(0 405.5 608.5)" stroke="#1c1c1c" stroke-width="0.8" fill="none"/>
<ellipse cx="493" cy="622" rx="2" ry="1" transform="rotate(0 493 622)" stroke="#1c1c1c" stroke-width="0.8" fill="none"/>
<ellipse cx="517" cy="616" rx="2" ry="1" transform="rotate(0 517 616)" stroke="#1c1c1c" stroke-width="0.8" fill="none"/>
<ellipse cx="537" cy="603.5" rx="2" ry="1" transform="rotate(0 537 603.5)" stroke="#1c1c1c" stroke-width="0.8" fill="none"/>
<polygon points="412.3,553 437.4,549.1 489.4,558.4 491,561.6 491,620.9 469.9,626 467.5,626.5 467.5,618.4 438.3,612.7 418.8,608 413.9,607 413.9,602 418.8,601 418.8,568 412.3,557" stroke="none" stroke-width="0" fill="#fdfefd" stroke-linejoin="round"/>
<polyline points="418.8,568 418.8,608 438.3,612.7 467.5,618.4" stroke="#1c1c1c" stroke-width="1.0" fill="none" stroke-linejoin="round"/>
<polygon points="412.3,553 437.4,549.1 489.4,558.4 467.5,564.1 412.3,554.3 412.3,553" stroke="#1c1c1c" stroke-width="1.0" fill="#fdfefd" stroke-linejoin="round"/>
<polyline points="412.3,554.3 412.3,557 467.5,567.3 490.2,561.6 489.4,558.4" stroke="#1c1c1c" stroke-width="1.0" fill="none" stroke-linejoin="round"/>
<line x1="467.5" y1="564.1" x2="467.5" y2="567.3" stroke="#1c1c1c" stroke-width="1.0"/>
<line x1="438.3" y1="567" x2="438.3" y2="612.7" stroke="#1c1c1c" stroke-width="0.9"/>
<line x1="467.5" y1="567.3" x2="467.5" y2="626.5" stroke="#1c1c1c" stroke-width="1.0"/>
<line x1="469.9" y1="567.3" x2="469.9" y2="626" stroke="#1c1c1c" stroke-width="1.0"/>
<line x1="491" y1="561.6" x2="491" y2="620.9" stroke="#1c1c1c" stroke-width="1.0"/>
<line x1="469.9" y1="626" x2="491" y2="620.9" stroke="#1c1c1c" stroke-width="1.0"/>
<polyline points="491,583 504,601 501,603 491,593" stroke="#1c1c1c" stroke-width="0.9" fill="none" stroke-linejoin="round"/>
<line x1="413.9" y1="602" x2="413.9" y2="607" stroke="#1c1c1c" stroke-width="1.0"/>
<line x1="413.9" y1="602" x2="418.8" y2="601" stroke="#1c1c1c" stroke-width="0.8"/>
<rect x="420.4" y="550" width="17.9" height="66" fill="#fdfefd" stroke="none"/>
<line x1="420.4" y1="551" x2="420.4" y2="613" stroke="#1c1c1c" stroke-width="1.0"/>
<line x1="438.3" y1="551" x2="438.3" y2="613" stroke="#1c1c1c" stroke-width="1.0"/>
<path d="M420.4,613 Q420.6,616.5 429.3,616.5 Q438,616.5 438.3,613" stroke="#1c1c1c" stroke-width="1.0" fill="none" stroke-linejoin="round" stroke-linecap="round"/>
<ellipse cx="424" cy="587" rx="0.9" ry="1.2" transform="rotate(0 424 587)" stroke="#1c1c1c" stroke-width="0.9" fill="none"/>
<polyline points="413.9,546.2 420.4,546.2 420.4,552 413.9,552 413.9,546.2" stroke="#1c1c1c" stroke-width="0.9" fill="#fdfefd" stroke-linejoin="round"/>
<rect x="420.4" y="544.3" width="17.9" height="7.6" fill="#fdfefd" stroke="none"/>
<line x1="420.4" y1="544.3" x2="420.4" y2="551.9" stroke="#1c1c1c" stroke-width="1.0"/>
<line x1="438.3" y1="544.3" x2="438.3" y2="551.9" stroke="#1c1c1c" stroke-width="1.0"/>
<path d="M420.4,551.9 Q421,554 429.3,554 Q437.5,554 438.3,551.9" stroke="#1c1c1c" stroke-width="1.0" fill="none" stroke-linejoin="round" stroke-linecap="round"/>
<ellipse cx="429.3" cy="544.3" rx="8.9" ry="2.4" transform="rotate(0 429.3 544.3)" stroke="#1c1c1c" stroke-width="1.0" fill="#fdfefd"/>
<ellipse cx="429.3" cy="544.6" rx="6" ry="1.5" transform="rotate(0 429.3 544.6)" stroke="#1c1c1c" stroke-width="0.9" fill="none"/>
<ellipse cx="428.5" cy="635.5" rx="5.5" ry="2" transform="rotate(0 428.5 635.5)" stroke="#1c1c1c" stroke-width="1.25" fill="none"/>
<ellipse cx="428.5" cy="635.5" rx="2.5" ry="0.8" transform="rotate(0 428.5 635.5)" stroke="#1c1c1c" stroke-width="0.9" fill="none"/>
<polygon points="378.9,601.5 381.3,601 380.6,596.7 378.1,597.1" stroke="#1c1c1c" stroke-width="0.9" fill="#fdfefd" stroke-linejoin="round"/>
<ellipse cx="378.5" cy="599.3" rx="0.9" ry="2.2" transform="rotate(-10.08059798754176 378.5 599.3)" stroke="#1c1c1c" stroke-width="0.9" fill="#fdfefd"/>
<line x1="381.2" y1="600.4" x2="383.3" y2="600.1" stroke="#1c1c1c" stroke-width="0.9"/>
<line x1="380.7" y1="597.3" x2="382.7" y2="596.9" stroke="#1c1c1c" stroke-width="0.9"/>
<ellipse cx="383" cy="598.5" rx="0.6" ry="1.6" transform="rotate(-10.08059798754176 383 598.5)" stroke="#1c1c1c" stroke-width="0.9" fill="none"/>
<line x1="383" y1="598.5" x2="420" y2="592" stroke="#a6a6a6" stroke-width="0.75" stroke-dasharray="7 2 1.5 2"/>
<polygon points="496.9,500.9 498.8,499.6 503.4,499.6 505.4,500.9 505.4,505.3 503.4,506.1 498.8,506.1 496.9,505.3" stroke="#1c1c1c" stroke-width="1.05" fill="#fdfefd" stroke-linejoin="round"/>
<polyline points="496.9,500.9 498.8,502.2 503.4,502.2 505.4,500.9" stroke="#1c1c1c" stroke-width="0.9" fill="none" stroke-linejoin="round"/>
<line x1="498.8" y1="502.2" x2="498.8" y2="506.1" stroke="#1c1c1c" stroke-width="0.8"/>
<line x1="503.4" y1="502.2" x2="503.4" y2="506.1" stroke="#1c1c1c" stroke-width="0.8"/>
<polygon points="489.8,525.2 491.7,524 496.3,524 498.2,525.2 498.2,529.7 496.3,530.5 491.7,530.5 489.8,529.7" stroke="#1c1c1c" stroke-width="1.05" fill="#fdfefd" stroke-linejoin="round"/>
<polyline points="489.8,525.2 491.7,526.6 496.3,526.6 498.2,525.2" stroke="#1c1c1c" stroke-width="0.9" fill="none" stroke-linejoin="round"/>
<line x1="491.7" y1="526.6" x2="491.7" y2="530.5" stroke="#1c1c1c" stroke-width="0.8"/>
<line x1="496.3" y1="526.6" x2="496.3" y2="530.5" stroke="#1c1c1c" stroke-width="0.8"/>
<polygon points="514,517.9 516,516.6 520.6,516.6 522.5,517.9 522.5,522.4 520.6,523.1 516,523.1 514,522.4" stroke="#1c1c1c" stroke-width="1.05" fill="#fdfefd" stroke-linejoin="round"/>
<polyline points="514,517.9 516,519.2 520.6,519.2 522.5,517.9" stroke="#1c1c1c" stroke-width="0.9" fill="none" stroke-linejoin="round"/>
<line x1="516" y1="519.2" x2="516" y2="523.1" stroke="#1c1c1c" stroke-width="0.8"/>
<line x1="520.6" y1="519.2" x2="520.6" y2="523.1" stroke="#1c1c1c" stroke-width="0.8"/>
<polygon points="531,506.6 532.9,505.2 537.5,505.2 539.5,506.6 539.5,510.9 537.5,511.8 532.9,511.8 531,510.9" stroke="#1c1c1c" stroke-width="1.05" fill="#fdfefd" stroke-linejoin="round"/>
<polyline points="531,506.6 532.9,507.9 537.5,507.9 539.5,506.6" stroke="#1c1c1c" stroke-width="0.9" fill="none" stroke-linejoin="round"/>
<line x1="532.9" y1="507.9" x2="532.9" y2="511.8" stroke="#1c1c1c" stroke-width="0.8"/>
<line x1="537.5" y1="507.9" x2="537.5" y2="511.8" stroke="#1c1c1c" stroke-width="0.8"/>
<ellipse cx="501.1" cy="514.2" rx="3.6" ry="1.5" transform="rotate(0 501.1 514.2)" stroke="#1c1c1c" stroke-width="1.0" fill="none"/>
<ellipse cx="501.1" cy="514.2" rx="1.6" ry="0.6" transform="rotate(0 501.1 514.2)" stroke="#1c1c1c" stroke-width="0.8" fill="none"/>
<ellipse cx="494" cy="539" rx="3.6" ry="1.5" transform="rotate(0 494 539)" stroke="#1c1c1c" stroke-width="1.0" fill="none"/>
<ellipse cx="494" cy="539" rx="1.6" ry="0.6" transform="rotate(0 494 539)" stroke="#1c1c1c" stroke-width="0.8" fill="none"/>
<ellipse cx="518.3" cy="531.2" rx="3.6" ry="1.5" transform="rotate(0 518.3 531.2)" stroke="#1c1c1c" stroke-width="1.0" fill="none"/>
<ellipse cx="518.3" cy="531.2" rx="1.6" ry="0.6" transform="rotate(0 518.3 531.2)" stroke="#1c1c1c" stroke-width="0.8" fill="none"/>
<ellipse cx="535.2" cy="519.9" rx="3.6" ry="1.5" transform="rotate(0 535.2 519.9)" stroke="#1c1c1c" stroke-width="1.0" fill="none"/>
<ellipse cx="535.2" cy="519.9" rx="1.6" ry="0.6" transform="rotate(0 535.2 519.9)" stroke="#1c1c1c" stroke-width="0.8" fill="none"/>
<ellipse cx="502.4" cy="527.2" rx="4.2" ry="1.7" transform="rotate(0 502.4 527.2)" stroke="#1c1c1c" stroke-width="1.25" fill="none"/>
<ellipse cx="502.4" cy="527.2" rx="1.9" ry="0.7" transform="rotate(0 502.4 527.2)" stroke="#1c1c1c" stroke-width="0.9" fill="none"/>
<ellipse cx="494" cy="552" rx="4.2" ry="1.7" transform="rotate(0 494 552)" stroke="#1c1c1c" stroke-width="1.25" fill="none"/>
<ellipse cx="494" cy="552" rx="1.9" ry="0.7" transform="rotate(0 494 552)" stroke="#1c1c1c" stroke-width="0.9" fill="none"/>
<ellipse cx="518.3" cy="544.2" rx="4.2" ry="1.7" transform="rotate(0 518.3 544.2)" stroke="#1c1c1c" stroke-width="1.0" fill="none"/>
<ellipse cx="518.3" cy="544.2" rx="1.9" ry="0.7" transform="rotate(0 518.3 544.2)" stroke="#1c1c1c" stroke-width="0.8" fill="none"/>
<ellipse cx="535.7" cy="532.9" rx="4.2" ry="1.7" transform="rotate(0 535.7 532.9)" stroke="#1c1c1c" stroke-width="1.25" fill="none"/>
<ellipse cx="535.7" cy="532.9" rx="1.9" ry="0.7" transform="rotate(0 535.7 532.9)" stroke="#1c1c1c" stroke-width="0.9" fill="none"/>
<polygon points="399.9,510.5 401.8,509.2 406.6,509.2 408.5,510.5 408.5,515 406.6,515.8 401.8,515.8 399.9,515" stroke="#1c1c1c" stroke-width="1.05" fill="#fdfefd" stroke-linejoin="round"/>
<polyline points="399.9,510.5 401.8,511.8 406.6,511.8 408.5,510.5" stroke="#1c1c1c" stroke-width="0.9" fill="none" stroke-linejoin="round"/>
<line x1="401.8" y1="511.8" x2="401.8" y2="515.8" stroke="#1c1c1c" stroke-width="0.8"/>
<line x1="406.6" y1="511.8" x2="406.6" y2="515.8" stroke="#1c1c1c" stroke-width="0.8"/>
<ellipse cx="404.8" cy="524.4" rx="3.6" ry="1.5" transform="rotate(0 404.8 524.4)" stroke="#1c1c1c" stroke-width="1.0" fill="none"/>
<ellipse cx="404.8" cy="524.4" rx="1.6" ry="0.6" transform="rotate(0 404.8 524.4)" stroke="#1c1c1c" stroke-width="0.8" fill="none"/>
<ellipse cx="406" cy="533.7" rx="4.4" ry="1.8" transform="rotate(0 406 533.7)" stroke="#1c1c1c" stroke-width="1.25" fill="none"/>
<ellipse cx="406" cy="533.7" rx="2" ry="0.7" transform="rotate(0 406 533.7)" stroke="#1c1c1c" stroke-width="0.9" fill="none"/>
<path d="M404.9,661.2 L404.9,721.3 Q404.9,727.3 409.8,725.9 L424.3,721.6 Q429.2,720.2 429.2,714.2 L429.2,654.2" stroke="#1c1c1c" stroke-width="6.4" fill="none" stroke-linejoin="round" stroke-linecap="butt"/>
<path d="M404.9,661.2 L404.9,721.3 Q404.9,727.3 409.8,725.9 L424.3,721.6 Q429.2,720.2 429.2,714.2 L429.2,654.2" stroke="#fdfefd" stroke-width="4.4" fill="none" stroke-linejoin="round" stroke-linecap="butt"/>
<ellipse cx="404.9" cy="661.2" rx="2.7" ry="1.5" transform="rotate(0 404.9 661.2)" stroke="#1c1c1c" stroke-width="1.0" fill="#fdfefd"/>
<ellipse cx="404.9" cy="661.2" rx="1.6" ry="0.8" transform="rotate(0 404.9 661.2)" stroke="#1c1c1c" stroke-width="0.7" fill="#1c1c1c"/>
<ellipse cx="429.2" cy="654.2" rx="2.7" ry="1.5" transform="rotate(0 429.2 654.2)" stroke="#1c1c1c" stroke-width="1.0" fill="#fdfefd"/>
<ellipse cx="429.2" cy="654.2" rx="1.6" ry="0.8" transform="rotate(0 429.2 654.2)" stroke="#1c1c1c" stroke-width="0.7" fill="#1c1c1c"/>
<path d="M501.7,643.5 L501.7,703.6 Q501.7,709.6 508.4,710.8 L528.7,714.3 Q535.4,715.5 535.4,709.5 L535.4,649.4" stroke="#1c1c1c" stroke-width="6.4" fill="none" stroke-linejoin="round" stroke-linecap="butt"/>
<path d="M501.7,643.5 L501.7,703.6 Q501.7,709.6 508.4,710.8 L528.7,714.3 Q535.4,715.5 535.4,709.5 L535.4,649.4" stroke="#fdfefd" stroke-width="4.4" fill="none" stroke-linejoin="round" stroke-linecap="butt"/>
<ellipse cx="501.7" cy="643.5" rx="2.7" ry="1.5" transform="rotate(0 501.7 643.5)" stroke="#1c1c1c" stroke-width="1.0" fill="#fdfefd"/>
<ellipse cx="501.7" cy="643.5" rx="1.6" ry="0.8" transform="rotate(0 501.7 643.5)" stroke="#1c1c1c" stroke-width="0.7" fill="#1c1c1c"/>
<ellipse cx="535.4" cy="649.4" rx="2.7" ry="1.5" transform="rotate(0 535.4 649.4)" stroke="#1c1c1c" stroke-width="1.0" fill="#fdfefd"/>
<ellipse cx="535.4" cy="649.4" rx="1.6" ry="0.8" transform="rotate(0 535.4 649.4)" stroke="#1c1c1c" stroke-width="0.7" fill="#1c1c1c"/>
<path d="M494.1,675.4 L494.1,735.5 Q494.1,741.5 499.1,740.1 L513.9,735.8 Q518.9,734.4 518.9,728.4 L518.9,668.3" stroke="#1c1c1c" stroke-width="6.4" fill="none" stroke-linejoin="round" stroke-linecap="butt"/>
<path d="M494.1,675.4 L494.1,735.5 Q494.1,741.5 499.1,740.1 L513.9,735.8 Q518.9,734.4 518.9,728.4 L518.9,668.3" stroke="#fdfefd" stroke-width="4.4" fill="none" stroke-linejoin="round" stroke-linecap="butt"/>
<ellipse cx="494.1" cy="675.4" rx="2.7" ry="1.5" transform="rotate(0 494.1 675.4)" stroke="#1c1c1c" stroke-width="1.0" fill="#fdfefd"/>
<ellipse cx="494.1" cy="675.4" rx="1.6" ry="0.8" transform="rotate(0 494.1 675.4)" stroke="#1c1c1c" stroke-width="0.7" fill="#1c1c1c"/>
<ellipse cx="518.9" cy="668.3" rx="2.7" ry="1.5" transform="rotate(0 518.9 668.3)" stroke="#1c1c1c" stroke-width="1.0" fill="#fdfefd"/>
<ellipse cx="518.9" cy="668.3" rx="1.6" ry="0.8" transform="rotate(0 518.9 668.3)" stroke="#1c1c1c" stroke-width="0.7" fill="#1c1c1c"/>
<line x1="474.1" y1="424" x2="436.6" y2="454.2" stroke="#1c1c1c" stroke-width="1.0"/>
<line x1="480" y1="460.8" x2="461.6" y2="510.8" stroke="#1c1c1c" stroke-width="1.0"/>
<line x1="521.9" y1="461.5" x2="502.4" y2="498" stroke="#1c1c1c" stroke-width="1.0"/>
<line x1="525" y1="461.8" x2="532.5" y2="505.3" stroke="#1c1c1c" stroke-width="1.0"/>
<line x1="592" y1="545" x2="558" y2="645" stroke="#a6a6a6" stroke-width="0.75" stroke-dasharray="7 2 1.5 2"/>
<line x1="604" y1="552" x2="580.5" y2="632" stroke="#a6a6a6" stroke-width="0.75" stroke-dasharray="7 2 1.5 2"/>
<path d="M594.7,462 Q588.3,474.9 586.1,487.7 Q586.5,500 596.8,507.7 L619.7,517.6" stroke="#1c1c1c" stroke-width="1.0" fill="none" stroke-linejoin="round" stroke-linecap="round"/>
<line x1="594" y1="469" x2="625.4" y2="480.6" stroke="#1c1c1c" stroke-width="0.9"/>
<line x1="594.7" y1="462" x2="604" y2="458" stroke="#1c1c1c" stroke-width="0.9"/>
<line x1="625.4" y1="480.6" x2="628" y2="477" stroke="#1c1c1c" stroke-width="0.9"/>
<line x1="627" y1="470" x2="652" y2="459" stroke="#1c1c1c" stroke-width="0.8"/>
<ellipse cx="634" cy="485" rx="33" ry="17.2" transform="rotate(-61 634 485)" stroke="#1c1c1c" stroke-width="1.1" fill="#fdfefd"/>
<line x1="618.2" y1="487.7" x2="643.9" y2="499.1" stroke="#1c1c1c" stroke-width="0.9"/>
<line x1="616.8" y1="491.5" x2="642.5" y2="503" stroke="#1c1c1c" stroke-width="0.9"/>
<line x1="643.9" y1="499.1" x2="645" y2="503" stroke="#1c1c1c" stroke-width="0.8"/>
<line x1="619.7" y1="474.9" x2="616.8" y2="487.7" stroke="#1c1c1c" stroke-width="0.9"/>
<line x1="622.5" y1="475.5" x2="619.5" y2="488" stroke="#1c1c1c" stroke-width="0.8"/>
<path d="M610.4,443.4 L653.2,399.3 Q657,396.5 660.7,400.5 Q662.5,404 661,405.7 L617,451.5" stroke="#1c1c1c" stroke-width="1.0" fill="none" stroke-linejoin="round" stroke-linecap="round"/>
<ellipse cx="657" cy="402.5" rx="2.2" ry="4.6" transform="rotate(-47 657 402.5)" stroke="#1c1c1c" stroke-width="0.9" fill="none"/>
<line x1="617.4" y1="449.3" x2="633.3" y2="435.3" stroke="#1c1c1c" stroke-width="0.8"/>
<path d="M611.5,438 L613.5,434.5 L617,433.5 M619.5,430.5 L622,428 L624.5,428.5" stroke="#1c1c1c" stroke-width="0.9" fill="none" stroke-linejoin="round" stroke-linecap="round"/>
<path d="M610.4,445.6 L596.4,459.7 Q592.5,465 595,472 Q597.5,477 601.6,475.9 L616.3,468.5 L627.4,456" stroke="#1c1c1c" stroke-width="1.1" fill="none" stroke-linejoin="round" stroke-linecap="round"/>
<path d="M611.5,449.5 L599.5,461.5 Q597.5,466 599.5,470 Q601.5,472.5 604.5,471.3 L615,466 L625,454" stroke="#1c1c1c" stroke-width="0.9" fill="none" stroke-linejoin="round" stroke-linecap="round"/>
<ellipse cx="603.8" cy="468.3" rx="3.6" ry="3.4" transform="rotate(0 603.8 468.3)" stroke="#1c1c1c" stroke-width="1.1" fill="#fdfefd"/>
<path d="M607.5,466 Q609.5,469 607,472" stroke="#1c1c1c" stroke-width="0.8" fill="none" stroke-linejoin="round" stroke-linecap="round"/>
<line x1="604.5" y1="456.7" x2="617.8" y2="464.8" stroke="#1c1c1c" stroke-width="1.0"/>
<line x1="606.5" y1="455" x2="619" y2="462.5" stroke="#1c1c1c" stroke-width="0.8"/>
<path d="M610.5,446.5 Q614,447.5 616,452 L617.5,458.5 Q615,459.5 613,455.5 Z" stroke="#1c1c1c" stroke-width="0.9" fill="#fdfefd" stroke-linejoin="round" stroke-linecap="round"/>
<ellipse cx="628.5" cy="449.5" rx="4.6" ry="3.2" transform="rotate(-30 628.5 449.5)" stroke="#1c1c1c" stroke-width="1.0" fill="#fdfefd"/>
<ellipse cx="622.5" cy="455.5" rx="2.5" ry="2" transform="rotate(-30 622.5 455.5)" stroke="#1c1c1c" stroke-width="0.9" fill="none"/>
<path d="M633.3,444.2 L637.7,441.2 L639,443 L634.5,446" stroke="#1c1c1c" stroke-width="0.9" fill="none" stroke-linejoin="round" stroke-linecap="round"/>
<line x1="636" y1="439" x2="640" y2="436" stroke="#1c1c1c" stroke-width="0.8"/>
<polyline points="621.5,460 631,456 633.5,464.5 624.5,468.5" stroke="#1c1c1c" stroke-width="0.9" fill="none" stroke-linejoin="round"/>
<line x1="617.8" y1="475" x2="619.5" y2="480" stroke="#1c1c1c" stroke-width="0.8"/>
<line x1="621" y1="474.5" x2="623" y2="480" stroke="#1c1c1c" stroke-width="0.8"/>
<polyline points="596,486.3 602.5,479.1 598.6,519.6" stroke="#1c1c1c" stroke-width="0.9" fill="none" stroke-linejoin="round"/>
<line x1="596.8" y1="490" x2="590.6" y2="538.5" stroke="#1c1c1c" stroke-width="0.9"/>
<line x1="600" y1="494" x2="594.8" y2="539.6" stroke="#1c1c1c" stroke-width="0.9"/>
<line x1="624.2" y1="516.8" x2="619.6" y2="535.4" stroke="#1c1c1c" stroke-width="0.9"/>
<polygon points="577.2,549.9 588.6,539.6 627.3,538.5 604.1,557.1" stroke="#1c1c1c" stroke-width="1.0" fill="#fdfefd" stroke-linejoin="round"/>
<polyline points="577.2,549.9 577.2,552 604.1,559.5 627.3,540.5 627.3,538.5" stroke="#1c1c1c" stroke-width="0.9" fill="none" stroke-linejoin="round"/>
<ellipse cx="592.2" cy="550.4" rx="3" ry="1.8" transform="rotate(-15 592.2 550.4)" stroke="#1c1c1c" stroke-width="0.9" fill="none"/>
<path d="M600.5,547.5 Q610,545 618.5,541" stroke="#1c1c1c" stroke-width="0.8" fill="none" stroke-linejoin="round" stroke-linecap="round"/>
<line x1="619.6" y1="535.4" x2="627.3" y2="538.5" stroke="#1c1c1c" stroke-width="0.8"/>
<line x1="590.6" y1="538.5" x2="594.8" y2="539.6" stroke="#1c1c1c" stroke-width="0.9"/>
<ellipse cx="595.3" cy="540.6" rx="4.2" ry="2" transform="rotate(0 595.3 540.6)" stroke="#1c1c1c" stroke-width="1.4" fill="none"/>
<ellipse cx="604.6" cy="512" rx="3.6" ry="2" transform="rotate(0 604.6 512)" stroke="#1c1c1c" stroke-width="1.0" fill="#fdfefd"/>
<line x1="601" y1="512" x2="600.5" y2="515" stroke="#1c1c1c" stroke-width="1.0"/>
<line x1="608.2" y1="512" x2="607.5" y2="515" stroke="#1c1c1c" stroke-width="1.0"/>
<line x1="600.5" y1="515" x2="596.5" y2="531.5" stroke="#1c1c1c" stroke-width="1.0"/>
<line x1="605.5" y1="515" x2="601.5" y2="533" stroke="#1c1c1c" stroke-width="1.0"/>
<path d="M596.5,531.5 Q598,534.5 601.5,533" stroke="#1c1c1c" stroke-width="1.0" fill="none" stroke-linejoin="round" stroke-linecap="round"/>
<line x1="548.1" y1="653" x2="548.1" y2="790.9" stroke="#1c1c1c" stroke-width="1.0"/>
<line x1="585" y1="640" x2="585" y2="786.5" stroke="#1c1c1c" stroke-width="1.0"/>
<path d="M546,647.8 L566.4,629.2 Q568,628 570,628.6 L589.4,638 Q590.5,639 589.8,641 L567.3,660.2 Q566,661 564,660.5 L547,650 Q545.5,649 546,647.8 Z" stroke="#1c1c1c" stroke-width="1.0" fill="#fdfefd" stroke-linejoin="round" stroke-linecap="round"/>
<path d="M546.3,650 L546.5,653 L565,664 L567,664 L590,644 L589.8,641" stroke="#1c1c1c" stroke-width="0.9" fill="none" stroke-linejoin="round" stroke-linecap="round"/>
<path d="M551.5,647 L567,654.5 L569,652.5 L553.5,645 Z" stroke="#1c1c1c" stroke-width="0.8" fill="none" stroke-linejoin="round" stroke-linecap="round"/>
<path d="M570,632.5 L585,640 L583.5,642 L568,634.5 Z" stroke="#1c1c1c" stroke-width="0.8" fill="none" stroke-linejoin="round" stroke-linecap="round"/>
<ellipse cx="554" cy="671.7" rx="2.8" ry="1.3" transform="rotate(0 554 671.7)" stroke="#1c1c1c" stroke-width="1.0" fill="none"/>
<ellipse cx="554" cy="671.7" rx="1.3" ry="0.5" transform="rotate(0 554 671.7)" stroke="#1c1c1c" stroke-width="0.8" fill="none"/>
<ellipse cx="541.6" cy="702.7" rx="3.3" ry="3" transform="rotate(0 541.6 702.7)" stroke="#1c1c1c" stroke-width="1.0" fill="#fdfefd"/>
<ellipse cx="543.5" cy="702.7" rx="2.5" ry="2.8" transform="rotate(0 543.5 702.7)" stroke="#1c1c1c" stroke-width="0.9" fill="none"/>
<polyline points="529.6,791.8 548,786.5 548.9,790.9 571,794.4 584.9,786.5 604.2,790 604.2,793.5 571.8,804 530.5,796.1 529.6,791.8" stroke="#1c1c1c" stroke-width="1.0" fill="#fdfefd" stroke-linejoin="round"/>
<polyline points="529.6,791.8 571.8,798.8 604.2,790" stroke="#1c1c1c" stroke-width="0.9" fill="none" stroke-linejoin="round"/>
<line x1="571.8" y1="798.8" x2="571.8" y2="804" stroke="#1c1c1c" stroke-width="0.9"/>
<ellipse cx="536.7" cy="791.8" rx="2" ry="1" transform="rotate(0 536.7 791.8)" stroke="#1c1c1c" stroke-width="0.8" fill="none"/>
<ellipse cx="571.8" cy="797" rx="2" ry="1" transform="rotate(0 571.8 797)" stroke="#1c1c1c" stroke-width="0.8" fill="none"/>
<ellipse cx="597.2" cy="788" rx="2" ry="1" transform="rotate(0 597.2 788)" stroke="#1c1c1c" stroke-width="0.8" fill="none"/>
<line x1="537.5" y1="755" x2="537.5" y2="880" stroke="#a6a6a6" stroke-width="0.75" stroke-dasharray="7 2 1.5 2"/>
<line x1="571.8" y1="760" x2="571.8" y2="885" stroke="#a6a6a6" stroke-width="0.75" stroke-dasharray="7 2 1.5 2"/>
<line x1="596.3" y1="752" x2="596.3" y2="878" stroke="#a6a6a6" stroke-width="0.75" stroke-dasharray="7 2 1.5 2"/>
<polygon points="533,758.1 535,756.8 540,756.8 542,758.1 542,762.8 540,763.6 535,763.6 533,762.8" stroke="#1c1c1c" stroke-width="1.05" fill="#fdfefd" stroke-linejoin="round"/>
<polyline points="533,758.1 535,759.4 540,759.4 542,758.1" stroke="#1c1c1c" stroke-width="0.9" fill="none" stroke-linejoin="round"/>
<line x1="535" y1="759.4" x2="535" y2="763.6" stroke="#1c1c1c" stroke-width="0.8"/>
<line x1="540" y1="759.4" x2="540" y2="763.6" stroke="#1c1c1c" stroke-width="0.8"/>
<polygon points="567.3,763.9 569.3,762.6 574.3,762.6 576.3,763.9 576.3,768.6 574.3,769.4 569.3,769.4 567.3,768.6" stroke="#1c1c1c" stroke-width="1.05" fill="#fdfefd" stroke-linejoin="round"/>
<polyline points="567.3,763.9 569.3,765.2 574.3,765.2 576.3,763.9" stroke="#1c1c1c" stroke-width="0.9" fill="none" stroke-linejoin="round"/>
<line x1="569.3" y1="765.2" x2="569.3" y2="769.4" stroke="#1c1c1c" stroke-width="0.8"/>
<line x1="574.3" y1="765.2" x2="574.3" y2="769.4" stroke="#1c1c1c" stroke-width="0.8"/>
<polygon points="591.8,755.4 593.8,754.1 598.8,754.1 600.8,755.4 600.8,760.1 598.8,760.9 593.8,760.9 591.8,760.1" stroke="#1c1c1c" stroke-width="1.05" fill="#fdfefd" stroke-linejoin="round"/>
<polyline points="591.8,755.4 593.8,756.7 598.8,756.7 600.8,755.4" stroke="#1c1c1c" stroke-width="0.9" fill="none" stroke-linejoin="round"/>
<line x1="593.8" y1="756.7" x2="593.8" y2="760.9" stroke="#1c1c1c" stroke-width="0.8"/>
<line x1="598.8" y1="756.7" x2="598.8" y2="760.9" stroke="#1c1c1c" stroke-width="0.8"/>
<ellipse cx="537.5" cy="776.8" rx="3.8" ry="1.6" transform="rotate(0 537.5 776.8)" stroke="#1c1c1c" stroke-width="1.0" fill="none"/>
<ellipse cx="537.5" cy="776.8" rx="1.7" ry="0.6" transform="rotate(0 537.5 776.8)" stroke="#1c1c1c" stroke-width="0.8" fill="none"/>
<ellipse cx="571.8" cy="782.1" rx="3.8" ry="1.6" transform="rotate(0 571.8 782.1)" stroke="#1c1c1c" stroke-width="1.0" fill="none"/>
<ellipse cx="571.8" cy="782.1" rx="1.7" ry="0.6" transform="rotate(0 571.8 782.1)" stroke="#1c1c1c" stroke-width="0.8" fill="none"/>
<ellipse cx="596.3" cy="774.7" rx="3.8" ry="1.6" transform="rotate(0 596.3 774.7)" stroke="#1c1c1c" stroke-width="1.0" fill="none"/>
<ellipse cx="596.3" cy="774.7" rx="1.7" ry="0.6" transform="rotate(0 596.3 774.7)" stroke="#1c1c1c" stroke-width="0.8" fill="none"/>
<path d="M562.1,811 L562.1,869.5 Q562.1,875.5 568.9,876.5 L589.5,879.5 Q596.3,880.5 596.3,874.5 L596.3,816.3" stroke="#1c1c1c" stroke-width="6.4" fill="none" stroke-linejoin="round" stroke-linecap="butt"/>
<path d="M562.1,811 L562.1,869.5 Q562.1,875.5 568.9,876.5 L589.5,879.5 Q596.3,880.5 596.3,874.5 L596.3,816.3" stroke="#fdfefd" stroke-width="4.4" fill="none" stroke-linejoin="round" stroke-linecap="butt"/>
<ellipse cx="562.1" cy="811" rx="2.7" ry="1.5" transform="rotate(0 562.1 811)" stroke="#1c1c1c" stroke-width="1.0" fill="#fdfefd"/>
<ellipse cx="562.1" cy="811" rx="1.6" ry="0.8" transform="rotate(0 562.1 811)" stroke="#1c1c1c" stroke-width="0.7" fill="#1c1c1c"/>
<ellipse cx="596.3" cy="816.3" rx="2.7" ry="1.5" transform="rotate(0 596.3 816.3)" stroke="#1c1c1c" stroke-width="1.0" fill="#fdfefd"/>
<ellipse cx="596.3" cy="816.3" rx="1.6" ry="0.8" transform="rotate(0 596.3 816.3)" stroke="#1c1c1c" stroke-width="0.7" fill="#1c1c1c"/>
<path d="M537.5,818 L537.5,876.5 Q537.5,882.5 544.4,883.9 L564.9,888.1 Q571.8,889.5 571.8,883.5 L571.8,823.3" stroke="#1c1c1c" stroke-width="6.4" fill="none" stroke-linejoin="round" stroke-linecap="butt"/>
<path d="M537.5,818 L537.5,876.5 Q537.5,882.5 544.4,883.9 L564.9,888.1 Q571.8,889.5 571.8,883.5 L571.8,823.3" stroke="#fdfefd" stroke-width="4.4" fill="none" stroke-linejoin="round" stroke-linecap="butt"/>
<ellipse cx="537.5" cy="818" rx="2.7" ry="1.5" transform="rotate(0 537.5 818)" stroke="#1c1c1c" stroke-width="1.0" fill="#fdfefd"/>
<ellipse cx="537.5" cy="818" rx="1.6" ry="0.8" transform="rotate(0 537.5 818)" stroke="#1c1c1c" stroke-width="0.7" fill="#1c1c1c"/>
<ellipse cx="571.8" cy="823.3" rx="2.7" ry="1.5" transform="rotate(0 571.8 823.3)" stroke="#1c1c1c" stroke-width="1.0" fill="#fdfefd"/>
<ellipse cx="571.8" cy="823.3" rx="1.6" ry="0.8" transform="rotate(0 571.8 823.3)" stroke="#1c1c1c" stroke-width="0.7" fill="#1c1c1c"/>
<line x1="275.4" y1="284.8" x2="291.6" y2="280.5" stroke="#a6a6a6" stroke-width="0.75" stroke-dasharray="7 2 1.5 2"/>
<line x1="295" y1="279.5" x2="303.4" y2="291.6" stroke="#a6a6a6" stroke-width="0.75" stroke-dasharray="7 2 1.5 2"/>
<line x1="271.2" y1="300" x2="286.5" y2="296.6" stroke="#a6a6a6" stroke-width="0.75" stroke-dasharray="7 2 1.5 2"/>
<line x1="290" y1="295.5" x2="303.4" y2="291.6" stroke="#a6a6a6" stroke-width="0.75" stroke-dasharray="7 2 1.5 2"/>
<line x1="309.4" y1="304.3" x2="324.6" y2="300" stroke="#a6a6a6" stroke-width="0.75" stroke-dasharray="7 2 1.5 2"/>
<line x1="328" y1="299" x2="337.3" y2="311.9" stroke="#a6a6a6" stroke-width="0.75" stroke-dasharray="7 2 1.5 2"/>
<line x1="305.1" y1="321.2" x2="319.5" y2="316.1" stroke="#a6a6a6" stroke-width="0.75" stroke-dasharray="7 2 1.5 2"/>
<line x1="323" y1="315" x2="337.3" y2="311.9" stroke="#a6a6a6" stroke-width="0.75" stroke-dasharray="7 2 1.5 2"/>
<line x1="337" y1="311" x2="365" y2="300" stroke="#a6a6a6" stroke-width="0.75" stroke-dasharray="7 2 1.5 2"/>
<line x1="306" y1="290" x2="345" y2="280" stroke="#a6a6a6" stroke-width="0.75" stroke-dasharray="7 2 1.5 2"/>
<line x1="324.6" y1="287" x2="300" y2="300" stroke="#a6a6a6" stroke-width="0.75" stroke-dasharray="7 2 1.5 2"/>
<line x1="319.5" y1="316" x2="308" y2="345" stroke="#a6a6a6" stroke-width="0.75" stroke-dasharray="7 2 1.5 2"/>
<polygon points="279.7,262.7 299.2,258.1 358.5,295 339,300.5 279.7,262.7" stroke="#1c1c1c" stroke-width="1.0" fill="#fdfefd" stroke-linejoin="round"/>
<line x1="280.5" y1="265.2" x2="339" y2="302.2" stroke="#1c1c1c" stroke-width="0.9"/>
<line x1="279.7" y1="262.7" x2="280.5" y2="265.2" stroke="#1c1c1c" stroke-width="0.9"/>
<line x1="339" y1="300.5" x2="339" y2="302.2" stroke="#1c1c1c" stroke-width="0.8"/>
<path d="M257.6,306.8 L319.5,344.1 L328,334.8 Q338,330 346.7,328 L350.1,321.2 L358.5,295.8" stroke="#1c1c1c" stroke-width="1.0" fill="none" stroke-linejoin="round" stroke-linecap="round"/>
<ellipse cx="324.6" cy="287" rx="2.2" ry="1.2" transform="rotate(20 324.6 287)" stroke="#1c1c1c" stroke-width="0.9" fill="none"/>
<ellipse cx="291.6" cy="280.5" rx="3.4" ry="3.4" transform="rotate(0 291.6 280.5)" stroke="#1c1c1c" stroke-width="1.1" fill="none"/>
<ellipse cx="291.6" cy="280.5" rx="1.7" ry="1.7" transform="rotate(0 291.6 280.5)" stroke="#1c1c1c" stroke-width="0.9" fill="none"/>
<ellipse cx="286.5" cy="296.6" rx="3.4" ry="3.4" transform="rotate(0 286.5 296.6)" stroke="#1c1c1c" stroke-width="1.1" fill="none"/>
<ellipse cx="286.5" cy="296.6" rx="1.7" ry="1.7" transform="rotate(0 286.5 296.6)" stroke="#1c1c1c" stroke-width="0.9" fill="none"/>
<ellipse cx="324.6" cy="300" rx="3.4" ry="3.4" transform="rotate(0 324.6 300)" stroke="#1c1c1c" stroke-width="1.1" fill="none"/>
<ellipse cx="324.6" cy="300" rx="1.7" ry="1.7" transform="rotate(0 324.6 300)" stroke="#1c1c1c" stroke-width="0.9" fill="none"/>
<ellipse cx="319.5" cy="316.1" rx="3.4" ry="3.4" transform="rotate(0 319.5 316.1)" stroke="#1c1c1c" stroke-width="1.1" fill="none"/>
<ellipse cx="319.5" cy="316.1" rx="1.7" ry="1.7" transform="rotate(0 319.5 316.1)" stroke="#1c1c1c" stroke-width="0.9" fill="none"/>
<ellipse cx="303.4" cy="291.6" rx="1.9" ry="2.2" transform="rotate(-20 303.4 291.6)" stroke="#1c1c1c" stroke-width="0.9" fill="none"/>
<ellipse cx="337.3" cy="311.9" rx="1.9" ry="2.2" transform="rotate(-20 337.3 311.9)" stroke="#1c1c1c" stroke-width="0.9" fill="none"/>
<path d="M311.5,318.5 L316,321.5 L317.5,320.5 L313,317.5 Z" stroke="#1c1c1c" stroke-width="0.9" fill="none" stroke-linejoin="round" stroke-linecap="round"/>
<polygon points="267,290.8 270.4,289.8 268.5,283.7 265,284.8" stroke="#1c1c1c" stroke-width="0.9" fill="#fdfefd" stroke-linejoin="round"/>
<ellipse cx="266" cy="287.8" rx="1.3" ry="3.2" transform="rotate(-17.700427788667238 266 287.8)" stroke="#1c1c1c" stroke-width="0.9" fill="#fdfefd"/>
<line x1="270.1" y1="288.8" x2="276.1" y2="286.9" stroke="#1c1c1c" stroke-width="0.9"/>
<line x1="268.8" y1="284.6" x2="274.7" y2="282.7" stroke="#1c1c1c" stroke-width="0.9"/>
<ellipse cx="275.4" cy="284.8" rx="0.9" ry="2.2" transform="rotate(-17.700427788667238 275.4 284.8)" stroke="#1c1c1c" stroke-width="0.9" fill="none"/>
<polygon points="260.7,307.6 264,306.3 261.7,300.3 258.3,301.6" stroke="#1c1c1c" stroke-width="0.9" fill="#fdfefd" stroke-linejoin="round"/>
<ellipse cx="259.5" cy="304.6" rx="1.3" ry="3.2" transform="rotate(-21.462885924719917 259.5 304.6)" stroke="#1c1c1c" stroke-width="0.9" fill="#fdfefd"/>
<line x1="263.7" y1="305.3" x2="272" y2="302" stroke="#1c1c1c" stroke-width="0.9"/>
<line x1="262" y1="301.2" x2="270.4" y2="298" stroke="#1c1c1c" stroke-width="0.9"/>
<ellipse cx="271.2" cy="300" rx="0.9" ry="2.2" transform="rotate(-21.462885924719917 271.2 300)" stroke="#1c1c1c" stroke-width="0.9" fill="none"/>
<polygon points="300.1,311.2 303.5,309.9 301.2,303.9 297.9,305.2" stroke="#1c1c1c" stroke-width="0.9" fill="#fdfefd" stroke-linejoin="round"/>
<ellipse cx="299" cy="308.2" rx="1.3" ry="3.2" transform="rotate(-20.556045219583396 299 308.2)" stroke="#1c1c1c" stroke-width="0.9" fill="#fdfefd"/>
<line x1="303.1" y1="309" x2="310.2" y2="306.4" stroke="#1c1c1c" stroke-width="0.9"/>
<line x1="301.6" y1="304.9" x2="308.6" y2="302.2" stroke="#1c1c1c" stroke-width="0.9"/>
<ellipse cx="309.4" cy="304.3" rx="0.9" ry="2.2" transform="rotate(-20.556045219583396 309.4 304.3)" stroke="#1c1c1c" stroke-width="0.9" fill="none"/>
<polygon points="295.6,328.2 299,326.9 296.7,320.9 293.4,322.2" stroke="#1c1c1c" stroke-width="0.9" fill="#fdfefd" stroke-linejoin="round"/>
<ellipse cx="294.5" cy="325.2" rx="1.3" ry="3.2" transform="rotate(-20.674424760873848 294.5 325.2)" stroke="#1c1c1c" stroke-width="0.9" fill="#fdfefd"/>
<line x1="298.6" y1="326" x2="305.9" y2="323.3" stroke="#1c1c1c" stroke-width="0.9"/>
<line x1="297.1" y1="321.9" x2="304.3" y2="319.1" stroke="#1c1c1c" stroke-width="0.9"/>
<ellipse cx="305.1" cy="321.2" rx="0.9" ry="2.2" transform="rotate(-20.674424760873848 305.1 321.2)" stroke="#1c1c1c" stroke-width="0.9" fill="none"/>
<path d="M347.5,194.5 L364,144.5 Q367,137.5 373,140 L394.5,151.5" stroke="#1c1c1c" stroke-width="6.6" fill="none" stroke-linejoin="round" stroke-linecap="butt"/>
<path d="M347.5,194.5 L364,144.5 Q367,137.5 373,140 L394.5,151.5" stroke="#fdfefd" stroke-width="4.6" fill="none" stroke-linejoin="round" stroke-linecap="butt"/>
<ellipse cx="347.5" cy="194.5" rx="2.8" ry="1.3" transform="rotate(-18 347.5 194.5)" stroke="#1c1c1c" stroke-width="0.9" fill="#fdfefd"/>
<ellipse cx="394.6" cy="151.5" rx="1.3" ry="2.8" transform="rotate(-28 394.6 151.5)" stroke="#1c1c1c" stroke-width="0.9" fill="#fdfefd"/>
<line x1="353.8" y1="195.7" x2="380.2" y2="205.2" stroke="#a6a6a6" stroke-width="0.75" stroke-dasharray="7 2 1.5 2"/>
<line x1="348.8" y1="197.7" x2="330" y2="262" stroke="#a6a6a6" stroke-width="0.75" stroke-dasharray="7 2 1.5 2"/>
<path d="M380.4,205.2 L396,213.3 Q405.8,218.2 405.8,221 Q405,223.2 398.5,221.6 Q394,220 395.5,215.6 L379.4,209.8" stroke="#1c1c1c" stroke-width="2.9" fill="none" stroke-linejoin="round" stroke-linecap="round"/>
<path d="M380.4,205.2 L396,213.3 Q405.8,218.2 405.8,221 Q405,223.2 398.5,221.6 Q394,220 395.5,215.6 L379.4,209.8" stroke="#fdfefd" stroke-width="1.3" fill="none" stroke-linejoin="round" stroke-linecap="round"/>
<circle cx="33" cy="22" r="13.2" stroke="#1c1c1c" stroke-width="1.25" fill="#fdfefd"/>
<text x="33" y="28.5" text-anchor="middle" font-size="18" font-style="italic" fill="#1c1c1c" stroke="#fdfefd" stroke-width="0.22">29</text>
<circle cx="25" cy="50" r="13.2" stroke="#1c1c1c" stroke-width="1.25" fill="#fdfefd"/>
<text x="25" y="56.5" text-anchor="middle" font-size="18" font-style="italic" fill="#1c1c1c" stroke="#fdfefd" stroke-width="0.22">28</text>
<circle cx="32" cy="81" r="13.2" stroke="#1c1c1c" stroke-width="1.25" fill="#fdfefd"/>
<text x="32" y="87.5" text-anchor="middle" font-size="18" font-style="italic" fill="#1c1c1c" stroke="#fdfefd" stroke-width="0.22">23</text>
<circle cx="19.7" cy="111.8" r="13.2" stroke="#1c1c1c" stroke-width="1.25" fill="#fdfefd"/>
<text x="19.7" y="118.3" text-anchor="middle" font-size="18" font-style="italic" fill="#1c1c1c" stroke="#fdfefd" stroke-width="0.22">30</text>
<circle cx="18.8" cy="142.3" r="13.2" stroke="#1c1c1c" stroke-width="1.25" fill="#fdfefd"/>
<text x="18.8" y="148.8" text-anchor="middle" font-size="18" font-style="italic" fill="#1c1c1c" stroke="#fdfefd" stroke-width="0.22">31</text>
<circle cx="206" cy="50.5" r="13.2" stroke="#1c1c1c" stroke-width="1.25" fill="#fdfefd"/>
<text x="206" y="57" text-anchor="middle" font-size="18" font-style="italic" fill="#1c1c1c" stroke="#fdfefd" stroke-width="0.22">29</text>
<circle cx="198" cy="107" r="13.2" stroke="#1c1c1c" stroke-width="1.25" fill="#fdfefd"/>
<text x="198" y="113.5" text-anchor="middle" font-size="18" font-style="italic" fill="#1c1c1c" stroke="#fdfefd" stroke-width="0.22">26</text>
<circle cx="222" cy="135.5" r="13.2" stroke="#1c1c1c" stroke-width="1.25" fill="#fdfefd"/>
<text x="222" y="142" text-anchor="middle" font-size="18" font-style="italic" fill="#1c1c1c" stroke="#fdfefd" stroke-width="0.22">24</text>
<circle cx="32" cy="255" r="13.2" stroke="#1c1c1c" stroke-width="1.25" fill="#fdfefd"/>
<text x="32" y="261.5" text-anchor="middle" font-size="18" font-style="italic" fill="#1c1c1c" stroke="#fdfefd" stroke-width="0.22">27</text>
<circle cx="45.2" cy="286.6" r="13.2" stroke="#1c1c1c" stroke-width="1.25" fill="#fdfefd"/>
<text x="45.2" y="293.1" text-anchor="middle" font-size="18" font-style="italic" fill="#1c1c1c" stroke="#fdfefd" stroke-width="0.22">25</text>
<circle cx="41.6" cy="365.2" r="13.2" stroke="#1c1c1c" stroke-width="1.25" fill="#fdfefd"/>
<text x="41.6" y="371.7" text-anchor="middle" font-size="18" font-style="italic" fill="#1c1c1c" stroke="#fdfefd" stroke-width="0.22">31</text>
<circle cx="127.8" cy="477.3" r="13.2" stroke="#1c1c1c" stroke-width="1.25" fill="#fdfefd"/>
<text x="127.8" y="483.8" text-anchor="middle" font-size="18" font-style="italic" fill="#1c1c1c" stroke="#fdfefd" stroke-width="0.22">24</text>
<circle cx="184.5" cy="510" r="13.2" stroke="#1c1c1c" stroke-width="1.25" fill="#fdfefd"/>
<text x="184.5" y="516.5" text-anchor="middle" font-size="18" font-style="italic" fill="#1c1c1c" stroke="#fdfefd" stroke-width="0.22">20</text>
<circle cx="237.5" cy="522.8" r="13.2" stroke="#1c1c1c" stroke-width="1.25" fill="#fdfefd"/>
<text x="237.5" y="529.3" text-anchor="middle" font-size="18" font-style="italic" fill="#1c1c1c" stroke="#fdfefd" stroke-width="0.22">21</text>
<circle cx="226.4" cy="551" r="13.2" stroke="#1c1c1c" stroke-width="1.25" fill="#fdfefd"/>
<text x="226.4" y="557.5" text-anchor="middle" font-size="18" font-style="italic" fill="#1c1c1c" stroke="#fdfefd" stroke-width="0.22">23</text>
<circle cx="223.5" cy="581.5" r="13.2" stroke="#1c1c1c" stroke-width="1.25" fill="#fdfefd"/>
<text x="223.5" y="588" text-anchor="middle" font-size="18" font-style="italic" fill="#1c1c1c" stroke="#fdfefd" stroke-width="0.22">22</text>
<circle cx="316" cy="589" r="13.2" stroke="#1c1c1c" stroke-width="1.25" fill="#fdfefd"/>
<text x="316" y="595.5" text-anchor="middle" font-size="18" font-style="italic" fill="#1c1c1c" stroke="#fdfefd" stroke-width="0.22">32</text>
<circle cx="314" cy="620.5" r="13.2" stroke="#1c1c1c" stroke-width="1.25" fill="#fdfefd"/>
<text x="314" y="627" text-anchor="middle" font-size="18" font-style="italic" fill="#1c1c1c" stroke="#fdfefd" stroke-width="0.22">12</text>
<circle cx="318" cy="656" r="13.2" stroke="#1c1c1c" stroke-width="1.25" fill="#fdfefd"/>
<text x="318" y="662.5" text-anchor="middle" font-size="18" font-style="italic" fill="#1c1c1c" stroke="#fdfefd" stroke-width="0.22">14</text>
<circle cx="281" cy="198.5" r="13.2" stroke="#1c1c1c" stroke-width="1.25" fill="#fdfefd"/>
<text x="281" y="205" text-anchor="middle" font-size="18" font-style="italic" fill="#1c1c1c" stroke="#fdfefd" stroke-width="0.22">1</text>
<circle cx="241" cy="239.3" r="13.2" stroke="#1c1c1c" stroke-width="1.25" fill="#fdfefd"/>
<text x="241" y="245.8" text-anchor="middle" font-size="18" font-style="italic" fill="#1c1c1c" stroke="#fdfefd" stroke-width="0.22">9</text>
<circle cx="225" cy="275" r="13.2" stroke="#1c1c1c" stroke-width="1.25" fill="#fdfefd"/>
<text x="225" y="281.5" text-anchor="middle" font-size="18" font-style="italic" fill="#1c1c1c" stroke="#fdfefd" stroke-width="0.22">8</text>
<circle cx="407.7" cy="94.7" r="13.2" stroke="#1c1c1c" stroke-width="1.25" fill="#fdfefd"/>
<text x="407.7" y="101.2" text-anchor="middle" font-size="18" font-style="italic" fill="#1c1c1c" stroke="#fdfefd" stroke-width="0.22">3</text>
<circle cx="440" cy="158" r="13.2" stroke="#1c1c1c" stroke-width="1.25" fill="#fdfefd"/>
<text x="440" y="164.5" text-anchor="middle" font-size="18" font-style="italic" fill="#1c1c1c" stroke="#fdfefd" stroke-width="0.22">4</text>
<circle cx="461.6" cy="196.6" r="13.2" stroke="#1c1c1c" stroke-width="1.25" fill="#fdfefd"/>
<text x="461.6" y="203.1" text-anchor="middle" font-size="18" font-style="italic" fill="#1c1c1c" stroke="#fdfefd" stroke-width="0.22">10</text>
<circle cx="493" cy="243" r="13.2" stroke="#1c1c1c" stroke-width="1.25" fill="#fdfefd"/>
<text x="493" y="249.5" text-anchor="middle" font-size="18" font-style="italic" fill="#1c1c1c" stroke="#fdfefd" stroke-width="0.22">11</text>
<circle cx="499.5" cy="300.3" r="13.2" stroke="#1c1c1c" stroke-width="1.25" fill="#fdfefd"/>
<text x="499.5" y="306.8" text-anchor="middle" font-size="18" font-style="italic" fill="#1c1c1c" stroke="#fdfefd" stroke-width="0.22">2</text>
<circle cx="487.9" cy="332" r="13.2" stroke="#1c1c1c" stroke-width="1.25" fill="#fdfefd"/>
<text x="487.9" y="338.5" text-anchor="middle" font-size="18" font-style="italic" fill="#1c1c1c" stroke="#fdfefd" stroke-width="0.22">7</text>
<circle cx="486.6" cy="362" r="13.2" stroke="#1c1c1c" stroke-width="1.25" fill="#fdfefd"/>
<text x="486.6" y="368.5" text-anchor="middle" font-size="18" font-style="italic" fill="#1c1c1c" stroke="#fdfefd" stroke-width="0.22">6</text>
<circle cx="472.5" cy="387.8" r="13.2" stroke="#1c1c1c" stroke-width="1.25" fill="#fdfefd"/>
<text x="472.5" y="394.3" text-anchor="middle" font-size="18" font-style="italic" fill="#1c1c1c" stroke="#fdfefd" stroke-width="0.22">5</text>
<circle cx="485.4" cy="414.7" r="13.2" stroke="#1c1c1c" stroke-width="1.25" fill="#fdfefd"/>
<text x="485.4" y="421.2" text-anchor="middle" font-size="18" font-style="italic" fill="#1c1c1c" stroke="#fdfefd" stroke-width="0.22">13</text>
<circle cx="485.4" cy="447" r="13.2" stroke="#1c1c1c" stroke-width="1.25" fill="#fdfefd"/>
<text x="485.4" y="453.5" text-anchor="middle" font-size="18" font-style="italic" fill="#1c1c1c" stroke="#fdfefd" stroke-width="0.22">15</text>
<circle cx="583" cy="414.2" r="13.2" stroke="#1c1c1c" stroke-width="1.25" fill="#fdfefd"/>
<text x="583" y="420.7" text-anchor="middle" font-size="18" font-style="italic" fill="#1c1c1c" stroke="#fdfefd" stroke-width="0.22">19</text>
<circle cx="525.4" cy="449.5" r="13.2" stroke="#1c1c1c" stroke-width="1.25" fill="#fdfefd"/>
<text x="525.4" y="456" text-anchor="middle" font-size="18" font-style="italic" fill="#1c1c1c" stroke="#fdfefd" stroke-width="0.22">7</text>
<circle cx="559.5" cy="472.5" r="13.2" stroke="#1c1c1c" stroke-width="1.25" fill="#fdfefd"/>
<text x="559.5" y="479" text-anchor="middle" font-size="18" font-style="italic" fill="#1c1c1c" stroke="#fdfefd" stroke-width="0.22">6</text>
<circle cx="340.5" cy="512.5" r="13.2" stroke="#1c1c1c" stroke-width="1.25" fill="#fdfefd"/>
<text x="340.5" y="519" text-anchor="middle" font-size="18" font-style="italic" fill="#1c1c1c" stroke="#fdfefd" stroke-width="0.22">7</text>
<circle cx="363.6" cy="537.7" r="13.2" stroke="#1c1c1c" stroke-width="1.25" fill="#fdfefd"/>
<text x="363.6" y="544.2" text-anchor="middle" font-size="18" font-style="italic" fill="#1c1c1c" stroke="#fdfefd" stroke-width="0.22">6</text>
<circle cx="357.5" cy="575.5" r="13.2" stroke="#1c1c1c" stroke-width="1.25" fill="#fdfefd"/>
<text x="357.5" y="582" text-anchor="middle" font-size="18" font-style="italic" fill="#1c1c1c" stroke="#fdfefd" stroke-width="0.22">16</text>
<circle cx="561.3" cy="563.5" r="13.2" stroke="#1c1c1c" stroke-width="1.25" fill="#fdfefd"/>
<text x="561.3" y="570" text-anchor="middle" font-size="18" font-style="italic" fill="#1c1c1c" stroke="#fdfefd" stroke-width="0.22">16</text>
<circle cx="650" cy="564.8" r="13.2" stroke="#1c1c1c" stroke-width="1.25" fill="#fdfefd"/>
<text x="650" y="571.3" text-anchor="middle" font-size="18" font-style="italic" fill="#1c1c1c" stroke="#fdfefd" stroke-width="0.22">18</text>
<circle cx="650" cy="597.3" r="13.2" stroke="#1c1c1c" stroke-width="1.25" fill="#fdfefd"/>
<text x="650" y="603.8" text-anchor="middle" font-size="18" font-style="italic" fill="#1c1c1c" stroke="#fdfefd" stroke-width="0.22">16</text>
<circle cx="642.5" cy="629.8" r="13.2" stroke="#1c1c1c" stroke-width="1.25" fill="#fdfefd"/>
<text x="642.5" y="636.3" text-anchor="middle" font-size="18" font-style="italic" fill="#1c1c1c" stroke="#fdfefd" stroke-width="0.22">6</text>
<circle cx="640" cy="662.3" r="13.2" stroke="#1c1c1c" stroke-width="1.25" fill="#fdfefd"/>
<text x="640" y="668.8" text-anchor="middle" font-size="18" font-style="italic" fill="#1c1c1c" stroke="#fdfefd" stroke-width="0.22">7</text>
<circle cx="635" cy="695.3" r="13.2" stroke="#1c1c1c" stroke-width="1.25" fill="#fdfefd"/>
<text x="635" y="701.8" text-anchor="middle" font-size="18" font-style="italic" fill="#1c1c1c" stroke="#fdfefd" stroke-width="0.22">17</text>
<circle cx="636.3" cy="726.5" r="13.2" stroke="#1c1c1c" stroke-width="1.25" fill="#fdfefd"/>
<text x="636.3" y="733" text-anchor="middle" font-size="18" font-style="italic" fill="#1c1c1c" stroke="#fdfefd" stroke-width="0.22">7</text>
<circle cx="637" cy="759" r="13.2" stroke="#1c1c1c" stroke-width="1.25" fill="#fdfefd"/>
<text x="637" y="765.5" text-anchor="middle" font-size="18" font-style="italic" fill="#1c1c1c" stroke="#fdfefd" stroke-width="0.22">6</text>
<circle cx="469.6" cy="757.2" r="13.2" stroke="#1c1c1c" stroke-width="1.25" fill="#fdfefd"/>
<text x="469.6" y="763.7" text-anchor="middle" font-size="18" font-style="italic" fill="#1c1c1c" stroke="#fdfefd" stroke-width="0.22">7</text>
<circle cx="477.8" cy="786.3" r="13.2" stroke="#1c1c1c" stroke-width="1.25" fill="#fdfefd"/>
<text x="477.8" y="792.8" text-anchor="middle" font-size="18" font-style="italic" fill="#1c1c1c" stroke="#fdfefd" stroke-width="0.22">6</text>
<circle cx="489.6" cy="814.3" r="13.2" stroke="#1c1c1c" stroke-width="1.25" fill="#fdfefd"/>
<text x="489.6" y="820.8" text-anchor="middle" font-size="18" font-style="italic" fill="#1c1c1c" stroke="#fdfefd" stroke-width="0.22">5</text>
<circle cx="462" cy="660.9" r="13.2" stroke="#1c1c1c" stroke-width="1.25" fill="#fdfefd"/>
<text x="462" y="667.4" text-anchor="middle" font-size="18" font-style="italic" fill="#1c1c1c" stroke="#fdfefd" stroke-width="0.22">5</text>
<mask id="wmk" maskUnits="userSpaceOnUse" x="0" y="0" width="678" height="912"><rect x="0" y="0" width="678" height="912" fill="#fff"/><text x="232" y="469.5" font-weight="bold" font-size="55" fill="#000" stroke="#000" stroke-width="1.8" stroke-linejoin="round" textLength="324" lengthAdjust="spacingAndGlyphs">autopiter.ru</text></mask>
<g style="mix-blend-mode:multiply">
<rect x="119.8" y="411" width="96.4" height="90.2" rx="34" ry="34" stroke="#d0d0d0" stroke-width="1.5" fill="none"/>
<path d="M135.7,438.4 L165,438.4 Q172.8,438.4 172.8,446 L172.8,472.9 L141,472.9 Q133.9,472.9 133.9,466 L133.9,458 Q133.9,451.6 140,451.6 L163.5,451.6 L163.5,448.1 L135.7,448.1 Z M149,459.6 L159.5,459.6 Q161.5,459.6 161.5,462.3 Q161.5,465 159.5,465 L149,465 Q147,465 147,462.3 Q147,459.6 149,459.6 Z" stroke="#d0d0d0" stroke-width="1.4" fill="none" stroke-linejoin="round"/>
<path d="M178.1,439.2 L187.9,438.4 L205.6,454.8 L187.9,472.9 L179,469.3 L191.4,455.6 L179,446.3 Z" stroke="#d0d0d0" stroke-width="1.4" fill="none" stroke-linejoin="round"/>
<g mask="url(#wmk)">
<text x="232" y="469.5" font-weight="bold" font-size="55" fill="none" stroke="#d0d0d0" stroke-width="4.4" stroke-linejoin="round" textLength="324" lengthAdjust="spacingAndGlyphs">autopiter.ru</text>
</g></g>
</svg></body></html>
